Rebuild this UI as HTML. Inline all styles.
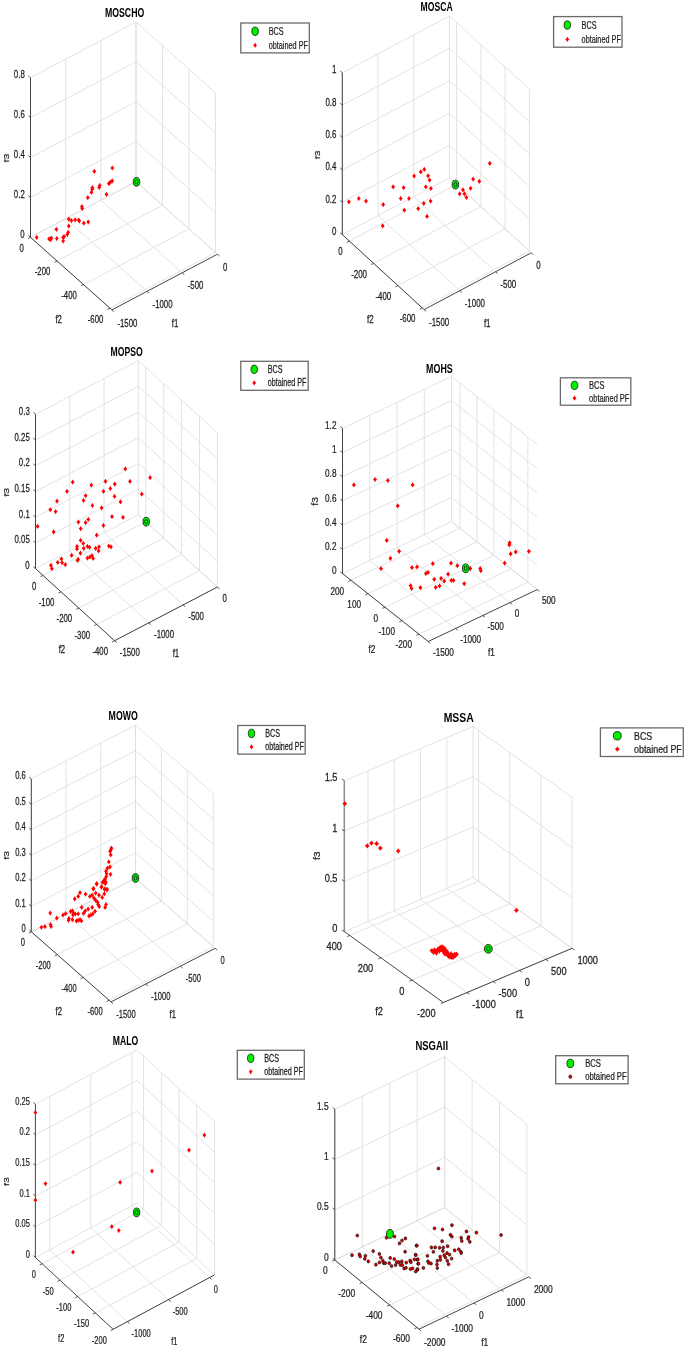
<!DOCTYPE html>
<html><head><meta charset="utf-8"><title>Pareto fronts</title>
<style>html,body{margin:0;padding:0;background:#fff;}svg{display:block;will-change:transform;}text{font-family:"Liberation Sans",sans-serif;}</style>
</head><body>
<svg width="685" height="1348" viewBox="0 0 685 1348" font-family='"Liberation Sans", sans-serif'>
<line x1="30.5" y1="237.3" x2="30.5" y2="77.7" stroke="#dcdcdc" stroke-width="0.8"/>
<line x1="109.96" y1="308.17" x2="30.5" y2="237.3" stroke="#dcdcdc" stroke-width="0.8"/>
<line x1="65.67" y1="218.73" x2="65.67" y2="59.13" stroke="#dcdcdc" stroke-width="0.8"/>
<line x1="145.13" y1="289.6" x2="65.67" y2="218.73" stroke="#dcdcdc" stroke-width="0.8"/>
<line x1="100.83" y1="200.17" x2="100.83" y2="40.57" stroke="#dcdcdc" stroke-width="0.8"/>
<line x1="180.29" y1="271.04" x2="100.83" y2="200.17" stroke="#dcdcdc" stroke-width="0.8"/>
<line x1="136" y1="181.6" x2="136" y2="22" stroke="#dcdcdc" stroke-width="0.8"/>
<line x1="215.46" y1="252.47" x2="136" y2="181.6" stroke="#dcdcdc" stroke-width="0.8"/>
<line x1="30.5" y1="237.3" x2="136" y2="181.6" stroke="#dcdcdc" stroke-width="0.8"/>
<line x1="136" y1="181.6" x2="215.46" y2="252.47" stroke="#dcdcdc" stroke-width="0.8"/>
<line x1="30.5" y1="197.4" x2="136" y2="141.7" stroke="#dcdcdc" stroke-width="0.8"/>
<line x1="136" y1="141.7" x2="215.46" y2="212.57" stroke="#dcdcdc" stroke-width="0.8"/>
<line x1="30.5" y1="157.5" x2="136" y2="101.8" stroke="#dcdcdc" stroke-width="0.8"/>
<line x1="136" y1="101.8" x2="215.46" y2="172.67" stroke="#dcdcdc" stroke-width="0.8"/>
<line x1="30.5" y1="117.6" x2="136" y2="61.9" stroke="#dcdcdc" stroke-width="0.8"/>
<line x1="136" y1="61.9" x2="215.46" y2="132.77" stroke="#dcdcdc" stroke-width="0.8"/>
<line x1="30.5" y1="77.7" x2="136" y2="22" stroke="#dcdcdc" stroke-width="0.8"/>
<line x1="136" y1="22" x2="215.46" y2="92.87" stroke="#dcdcdc" stroke-width="0.8"/>
<line x1="215.46" y1="252.47" x2="215.46" y2="92.87" stroke="#dcdcdc" stroke-width="0.8"/>
<line x1="109.96" y1="308.17" x2="215.46" y2="252.47" stroke="#dcdcdc" stroke-width="0.8"/>
<line x1="188.97" y1="228.85" x2="188.97" y2="69.25" stroke="#dcdcdc" stroke-width="0.8"/>
<line x1="83.47" y1="284.55" x2="188.97" y2="228.85" stroke="#dcdcdc" stroke-width="0.8"/>
<line x1="162.49" y1="205.22" x2="162.49" y2="45.62" stroke="#dcdcdc" stroke-width="0.8"/>
<line x1="56.99" y1="260.92" x2="162.49" y2="205.22" stroke="#dcdcdc" stroke-width="0.8"/>
<line x1="136" y1="181.6" x2="136" y2="22" stroke="#dcdcdc" stroke-width="0.8"/>
<line x1="30.5" y1="237.3" x2="136" y2="181.6" stroke="#dcdcdc" stroke-width="0.8"/>
<line x1="30.5" y1="237.3" x2="30.5" y2="77.7" stroke="#303030" stroke-width="0.9"/>
<line x1="30.5" y1="237.3" x2="111.9" y2="309.9" stroke="#303030" stroke-width="0.9"/>
<line x1="111.9" y1="309.9" x2="217.4" y2="254.2" stroke="#303030" stroke-width="0.9"/>
<line x1="111.9" y1="309.9" x2="113.99" y2="311.76" stroke="#303030" stroke-width="0.8"/>
<line x1="147.07" y1="291.33" x2="149.16" y2="293.2" stroke="#303030" stroke-width="0.8"/>
<line x1="182.23" y1="272.77" x2="184.32" y2="274.63" stroke="#303030" stroke-width="0.8"/>
<line x1="217.4" y1="254.2" x2="219.49" y2="256.06" stroke="#303030" stroke-width="0.8"/>
<line x1="109.96" y1="308.17" x2="107.48" y2="309.48" stroke="#303030" stroke-width="0.8"/>
<line x1="83.47" y1="284.55" x2="81" y2="285.85" stroke="#303030" stroke-width="0.8"/>
<line x1="56.99" y1="260.92" x2="54.51" y2="262.23" stroke="#303030" stroke-width="0.8"/>
<line x1="30.5" y1="237.3" x2="28.02" y2="238.61" stroke="#303030" stroke-width="0.8"/>
<line x1="30.5" y1="237.3" x2="28.41" y2="235.44" stroke="#303030" stroke-width="0.8"/>
<line x1="30.5" y1="197.4" x2="28.41" y2="195.54" stroke="#303030" stroke-width="0.8"/>
<line x1="30.5" y1="157.5" x2="28.41" y2="155.64" stroke="#303030" stroke-width="0.8"/>
<line x1="30.5" y1="117.6" x2="28.41" y2="115.74" stroke="#303030" stroke-width="0.8"/>
<line x1="30.5" y1="77.7" x2="28.41" y2="75.84" stroke="#303030" stroke-width="0.8"/>
<text transform="translate(24.72 237.9) scale(0.75 1)" font-size="10.4" text-anchor="end" font-weight="normal" fill="#1e1e1e" stroke="#1e1e1e" stroke-width="0.25">0</text>
<text transform="translate(24.72 198) scale(0.75 1)" font-size="10.4" text-anchor="end" font-weight="normal" fill="#1e1e1e" stroke="#1e1e1e" stroke-width="0.25">0.2</text>
<text transform="translate(24.72 158.1) scale(0.75 1)" font-size="10.4" text-anchor="end" font-weight="normal" fill="#1e1e1e" stroke="#1e1e1e" stroke-width="0.25">0.4</text>
<text transform="translate(24.72 118.2) scale(0.75 1)" font-size="10.4" text-anchor="end" font-weight="normal" fill="#1e1e1e" stroke="#1e1e1e" stroke-width="0.25">0.6</text>
<text transform="translate(24.72 78.3) scale(0.75 1)" font-size="10.4" text-anchor="end" font-weight="normal" fill="#1e1e1e" stroke="#1e1e1e" stroke-width="0.25">0.8</text>
<text transform="translate(103.36 322.57) scale(0.75 1)" font-size="10.4" text-anchor="end" font-weight="normal" fill="#1e1e1e" stroke="#1e1e1e" stroke-width="0.25">-600</text>
<text transform="translate(76.87 298.95) scale(0.75 1)" font-size="10.4" text-anchor="end" font-weight="normal" fill="#1e1e1e" stroke="#1e1e1e" stroke-width="0.25">-400</text>
<text transform="translate(50.38 275.32) scale(0.75 1)" font-size="10.4" text-anchor="end" font-weight="normal" fill="#1e1e1e" stroke="#1e1e1e" stroke-width="0.25">-200</text>
<text transform="translate(23.9 251.7) scale(0.75 1)" font-size="10.4" text-anchor="end" font-weight="normal" fill="#1e1e1e" stroke="#1e1e1e" stroke-width="0.25">0</text>
<text transform="translate(117.4 326.5) scale(0.75 1)" font-size="10.4" text-anchor="start" font-weight="normal" fill="#1e1e1e" stroke="#1e1e1e" stroke-width="0.25">-1500</text>
<text transform="translate(152.57 307.93) scale(0.75 1)" font-size="10.4" text-anchor="start" font-weight="normal" fill="#1e1e1e" stroke="#1e1e1e" stroke-width="0.25">-1000</text>
<text transform="translate(187.73 289.37) scale(0.75 1)" font-size="10.4" text-anchor="start" font-weight="normal" fill="#1e1e1e" stroke="#1e1e1e" stroke-width="0.25">-500</text>
<text transform="translate(222.9 270.8) scale(0.75 1)" font-size="10.4" text-anchor="start" font-weight="normal" fill="#1e1e1e" stroke="#1e1e1e" stroke-width="0.25">0</text>
<text transform="translate(175 326.8) scale(0.75 1)" font-size="10.4" text-anchor="middle" font-weight="normal" fill="#1e1e1e" stroke="#1e1e1e" stroke-width="0.25">f1</text>
<text transform="translate(58.7 323.1) scale(0.75 1)" font-size="10.4" text-anchor="middle" font-weight="normal" fill="#1e1e1e" stroke="#1e1e1e" stroke-width="0.25">f2</text>
<text transform="translate(8.5 158.1) scale(0.75 1) rotate(-90)" font-size="10.4" text-anchor="middle" font-weight="normal" fill="#1e1e1e" stroke="#1e1e1e" stroke-width="0.25">f3</text>
<text transform="translate(124.6 17.2) scale(0.73 1)" font-size="12" text-anchor="middle" font-weight="bold" fill="#000">MOSCHO</text>
<path d="M36.7 234.75L37.65 236.3L38.7 237.4L37.65 238.5L36.7 240.05L35.75 238.5L34.7 237.4L35.75 236.3Z" fill="#ff0000"/>
<path d="M49.1 236.15L50.05 237.7L51.1 238.8L50.05 239.9L49.1 241.45L48.15 239.9L47.1 238.8L48.15 237.7Z" fill="#ff0000"/>
<path d="M50.5 236.95L51.45 238.5L52.5 239.6L51.45 240.7L50.5 242.25L49.55 240.7L48.5 239.6L49.55 238.5Z" fill="#ff0000"/>
<path d="M51.3 235.45L52.25 237L53.3 238.1L52.25 239.2L51.3 240.75L50.35 239.2L49.3 238.1L50.35 237Z" fill="#ff0000"/>
<path d="M56.4 226.65L57.35 228.2L58.4 229.3L57.35 230.4L56.4 231.95L55.45 230.4L54.4 229.3L55.45 228.2Z" fill="#ff0000"/>
<path d="M56.8 235.85L57.75 237.4L58.8 238.5L57.75 239.6L56.8 241.15L55.85 239.6L54.8 238.5L55.85 237.4Z" fill="#ff0000"/>
<path d="M63.2 234.75L64.15 236.3L65.2 237.4L64.15 238.5L63.2 240.05L62.25 238.5L61.2 237.4L62.25 236.3Z" fill="#ff0000"/>
<path d="M63.2 238.35L64.15 239.9L65.2 241L64.15 242.1L63.2 243.65L62.25 242.1L61.2 241L62.25 239.9Z" fill="#ff0000"/>
<path d="M64.1 233.95L65.05 235.5L66.1 236.6L65.05 237.7L64.1 239.25L63.15 237.7L62.1 236.6L63.15 235.5Z" fill="#ff0000"/>
<path d="M67.3 231.85L68.25 233.4L69.3 234.5L68.25 235.6L67.3 237.15L66.35 235.6L65.3 234.5L66.35 233.4Z" fill="#ff0000"/>
<path d="M68.1 229.65L69.05 231.2L70.1 232.3L69.05 233.4L68.1 234.95L67.15 233.4L66.1 232.3L67.15 231.2Z" fill="#ff0000"/>
<path d="M68.8 223.35L69.75 224.9L70.8 226L69.75 227.1L68.8 228.65L67.85 227.1L66.8 226L67.85 224.9Z" fill="#ff0000"/>
<path d="M68.8 216.45L69.75 218L70.8 219.1L69.75 220.2L68.8 221.75L67.85 220.2L66.8 219.1L67.85 218Z" fill="#ff0000"/>
<path d="M71.4 217.95L72.35 219.5L73.4 220.6L72.35 221.7L71.4 223.25L70.45 221.7L69.4 220.6L70.45 219.5Z" fill="#ff0000"/>
<path d="M75.1 217.25L76.05 218.8L77.1 219.9L76.05 221L75.1 222.55L74.15 221L73.1 219.9L74.15 218.8Z" fill="#ff0000"/>
<path d="M78.7 217.45L79.65 219L80.7 220.1L79.65 221.2L78.7 222.75L77.75 221.2L76.7 220.1L77.75 219Z" fill="#ff0000"/>
<path d="M79.3 218.35L80.25 219.9L81.3 221L80.25 222.1L79.3 223.65L78.35 222.1L77.3 221L78.35 219.9Z" fill="#ff0000"/>
<path d="M83.8 220.55L84.75 222.1L85.8 223.2L84.75 224.3L83.8 225.85L82.85 224.3L81.8 223.2L82.85 222.1Z" fill="#ff0000"/>
<path d="M88.2 219.35L89.15 220.9L90.2 222L89.15 223.1L88.2 224.65L87.25 223.1L86.2 222L87.25 220.9Z" fill="#ff0000"/>
<path d="M81.9 204.05L82.85 205.6L83.9 206.7L82.85 207.8L81.9 209.35L80.95 207.8L79.9 206.7L80.95 205.6Z" fill="#ff0000"/>
<path d="M82.2 205.85L83.15 207.4L84.2 208.5L83.15 209.6L82.2 211.15L81.25 209.6L80.2 208.5L81.25 207.4Z" fill="#ff0000"/>
<path d="M87.8 195.05L88.75 196.6L89.8 197.7L88.75 198.8L87.8 200.35L86.85 198.8L85.8 197.7L86.85 196.6Z" fill="#ff0000"/>
<path d="M91.4 189.75L92.35 191.3L93.4 192.4L92.35 193.5L91.4 195.05L90.45 193.5L89.4 192.4L90.45 191.3Z" fill="#ff0000"/>
<path d="M92.2 186.55L93.15 188.1L94.2 189.2L93.15 190.3L92.2 191.85L91.25 190.3L90.2 189.2L91.25 188.1Z" fill="#ff0000"/>
<path d="M92.4 185.05L93.35 186.6L94.4 187.7L93.35 188.8L92.4 190.35L91.45 188.8L90.4 187.7L91.45 186.6Z" fill="#ff0000"/>
<path d="M94.3 168.75L95.25 170.3L96.3 171.4L95.25 172.5L94.3 174.05L93.35 172.5L92.3 171.4L93.35 170.3Z" fill="#ff0000"/>
<path d="M99.2 184.75L100.15 186.3L101.2 187.4L100.15 188.5L99.2 190.05L98.25 188.5L97.2 187.4L98.25 186.3Z" fill="#ff0000"/>
<path d="M99.7 182.85L100.65 184.4L101.7 185.5L100.65 186.6L99.7 188.15L98.75 186.6L97.7 185.5L98.75 184.4Z" fill="#ff0000"/>
<path d="M106.5 191.65L107.45 193.2L108.5 194.3L107.45 195.4L106.5 196.95L105.55 195.4L104.5 194.3L105.55 193.2Z" fill="#ff0000"/>
<path d="M108.9 180.95L109.85 182.5L110.9 183.6L109.85 184.7L108.9 186.25L107.95 184.7L106.9 183.6L107.95 182.5Z" fill="#ff0000"/>
<path d="M110.4 179.55L111.35 181.1L112.4 182.2L111.35 183.3L110.4 184.85L109.45 183.3L108.4 182.2L109.45 181.1Z" fill="#ff0000"/>
<path d="M112.2 178.25L113.15 179.8L114.2 180.9L113.15 182L112.2 183.55L111.25 182L110.2 180.9L111.25 179.8Z" fill="#ff0000"/>
<path d="M112.3 165.35L113.25 166.9L114.3 168L113.25 169.1L112.3 170.65L111.35 169.1L110.3 168L111.35 166.9Z" fill="#ff0000"/>
<ellipse cx="136.5" cy="181.8" rx="3.27" ry="4.4" fill="#00f000" stroke="#111" stroke-width="0.8"/>
<ellipse cx="136.5" cy="181.8" rx="1.44" ry="2.2" fill="none" stroke="#031" stroke-width="0.9"/>
<rect x="240.8" y="23" width="68.5" height="29.9" fill="#fff" stroke="#6a6a6a" stroke-width="1.3"/>
<ellipse cx="255.1" cy="31.24" rx="3.27" ry="4.2" fill="#00f000" stroke="#000" stroke-width="0.7"/>
<path d="M255.1 42.62L256.05 44.17L257.1 45.27L256.05 46.37L255.1 47.92L254.15 46.37L253.1 45.27L254.15 44.17Z" fill="#ff0000"/>
<text transform="translate(268.7 35.24) scale(0.7 1)" font-size="10.4" text-anchor="start" font-weight="normal" fill="#1e1e1e" stroke="#1e1e1e" stroke-width="0.25">BCS</text>
<text transform="translate(268.7 48.57) scale(0.7 1)" font-size="10.4" text-anchor="start" font-weight="normal" fill="#1e1e1e" stroke="#1e1e1e" stroke-width="0.25">obtained PF</text>
<line x1="342.3" y1="234.6" x2="342.3" y2="72.8" stroke="#dcdcdc" stroke-width="0.8"/>
<line x1="422.18" y1="307.84" x2="342.3" y2="234.6" stroke="#dcdcdc" stroke-width="0.8"/>
<line x1="378.03" y1="215.67" x2="378.03" y2="53.87" stroke="#dcdcdc" stroke-width="0.8"/>
<line x1="457.92" y1="288.91" x2="378.03" y2="215.67" stroke="#dcdcdc" stroke-width="0.8"/>
<line x1="413.77" y1="196.73" x2="413.77" y2="34.93" stroke="#dcdcdc" stroke-width="0.8"/>
<line x1="493.65" y1="269.98" x2="413.77" y2="196.73" stroke="#dcdcdc" stroke-width="0.8"/>
<line x1="449.5" y1="177.8" x2="449.5" y2="16" stroke="#dcdcdc" stroke-width="0.8"/>
<line x1="529.38" y1="251.04" x2="449.5" y2="177.8" stroke="#dcdcdc" stroke-width="0.8"/>
<line x1="342.3" y1="234.6" x2="449.5" y2="177.8" stroke="#dcdcdc" stroke-width="0.8"/>
<line x1="449.5" y1="177.8" x2="529.38" y2="251.04" stroke="#dcdcdc" stroke-width="0.8"/>
<line x1="342.3" y1="202.24" x2="449.5" y2="145.44" stroke="#dcdcdc" stroke-width="0.8"/>
<line x1="449.5" y1="145.44" x2="529.38" y2="218.68" stroke="#dcdcdc" stroke-width="0.8"/>
<line x1="342.3" y1="169.88" x2="449.5" y2="113.08" stroke="#dcdcdc" stroke-width="0.8"/>
<line x1="449.5" y1="113.08" x2="529.38" y2="186.32" stroke="#dcdcdc" stroke-width="0.8"/>
<line x1="342.3" y1="137.52" x2="449.5" y2="80.72" stroke="#dcdcdc" stroke-width="0.8"/>
<line x1="449.5" y1="80.72" x2="529.38" y2="153.96" stroke="#dcdcdc" stroke-width="0.8"/>
<line x1="342.3" y1="105.16" x2="449.5" y2="48.36" stroke="#dcdcdc" stroke-width="0.8"/>
<line x1="449.5" y1="48.36" x2="529.38" y2="121.6" stroke="#dcdcdc" stroke-width="0.8"/>
<line x1="342.3" y1="72.8" x2="449.5" y2="16" stroke="#dcdcdc" stroke-width="0.8"/>
<line x1="449.5" y1="16" x2="529.38" y2="89.24" stroke="#dcdcdc" stroke-width="0.8"/>
<line x1="529.38" y1="251.04" x2="529.38" y2="89.24" stroke="#dcdcdc" stroke-width="0.8"/>
<line x1="422.18" y1="307.84" x2="529.38" y2="251.04" stroke="#dcdcdc" stroke-width="0.8"/>
<line x1="505.1" y1="228.78" x2="505.1" y2="66.98" stroke="#dcdcdc" stroke-width="0.8"/>
<line x1="397.9" y1="285.58" x2="505.1" y2="228.78" stroke="#dcdcdc" stroke-width="0.8"/>
<line x1="480.82" y1="206.52" x2="480.82" y2="44.72" stroke="#dcdcdc" stroke-width="0.8"/>
<line x1="373.62" y1="263.32" x2="480.82" y2="206.52" stroke="#dcdcdc" stroke-width="0.8"/>
<line x1="456.54" y1="184.26" x2="456.54" y2="22.46" stroke="#dcdcdc" stroke-width="0.8"/>
<line x1="349.34" y1="241.06" x2="456.54" y2="184.26" stroke="#dcdcdc" stroke-width="0.8"/>
<line x1="342.3" y1="234.6" x2="342.3" y2="72.8" stroke="#303030" stroke-width="0.9"/>
<line x1="342.3" y1="234.6" x2="424.1" y2="309.6" stroke="#303030" stroke-width="0.9"/>
<line x1="424.1" y1="309.6" x2="531.3" y2="252.8" stroke="#303030" stroke-width="0.9"/>
<line x1="424.1" y1="309.6" x2="426.16" y2="311.49" stroke="#303030" stroke-width="0.8"/>
<line x1="459.83" y1="290.67" x2="461.9" y2="292.56" stroke="#303030" stroke-width="0.8"/>
<line x1="495.57" y1="271.73" x2="497.63" y2="273.63" stroke="#303030" stroke-width="0.8"/>
<line x1="531.3" y1="252.8" x2="533.36" y2="254.69" stroke="#303030" stroke-width="0.8"/>
<line x1="422.18" y1="307.84" x2="419.71" y2="309.15" stroke="#303030" stroke-width="0.8"/>
<line x1="397.9" y1="285.58" x2="395.43" y2="286.89" stroke="#303030" stroke-width="0.8"/>
<line x1="373.62" y1="263.32" x2="371.15" y2="264.63" stroke="#303030" stroke-width="0.8"/>
<line x1="349.34" y1="241.06" x2="346.87" y2="242.37" stroke="#303030" stroke-width="0.8"/>
<line x1="342.3" y1="234.6" x2="340.24" y2="232.71" stroke="#303030" stroke-width="0.8"/>
<line x1="342.3" y1="202.24" x2="340.24" y2="200.35" stroke="#303030" stroke-width="0.8"/>
<line x1="342.3" y1="169.88" x2="340.24" y2="167.99" stroke="#303030" stroke-width="0.8"/>
<line x1="342.3" y1="137.52" x2="340.24" y2="135.63" stroke="#303030" stroke-width="0.8"/>
<line x1="342.3" y1="105.16" x2="340.24" y2="103.27" stroke="#303030" stroke-width="0.8"/>
<line x1="342.3" y1="72.8" x2="340.24" y2="70.91" stroke="#303030" stroke-width="0.8"/>
<text transform="translate(336.44 235.2) scale(0.76 1)" font-size="10.4" text-anchor="end" font-weight="normal" fill="#1e1e1e" stroke="#1e1e1e" stroke-width="0.25">0</text>
<text transform="translate(336.44 202.84) scale(0.76 1)" font-size="10.4" text-anchor="end" font-weight="normal" fill="#1e1e1e" stroke="#1e1e1e" stroke-width="0.25">0.2</text>
<text transform="translate(336.44 170.48) scale(0.76 1)" font-size="10.4" text-anchor="end" font-weight="normal" fill="#1e1e1e" stroke="#1e1e1e" stroke-width="0.25">0.4</text>
<text transform="translate(336.44 138.12) scale(0.76 1)" font-size="10.4" text-anchor="end" font-weight="normal" fill="#1e1e1e" stroke="#1e1e1e" stroke-width="0.25">0.6</text>
<text transform="translate(336.44 105.76) scale(0.76 1)" font-size="10.4" text-anchor="end" font-weight="normal" fill="#1e1e1e" stroke="#1e1e1e" stroke-width="0.25">0.8</text>
<text transform="translate(336.44 73.4) scale(0.76 1)" font-size="10.4" text-anchor="end" font-weight="normal" fill="#1e1e1e" stroke="#1e1e1e" stroke-width="0.25">1</text>
<text transform="translate(415.49 322.24) scale(0.76 1)" font-size="10.4" text-anchor="end" font-weight="normal" fill="#1e1e1e" stroke="#1e1e1e" stroke-width="0.25">-600</text>
<text transform="translate(391.2 299.98) scale(0.76 1)" font-size="10.4" text-anchor="end" font-weight="normal" fill="#1e1e1e" stroke="#1e1e1e" stroke-width="0.25">-400</text>
<text transform="translate(366.92 277.72) scale(0.76 1)" font-size="10.4" text-anchor="end" font-weight="normal" fill="#1e1e1e" stroke="#1e1e1e" stroke-width="0.25">-200</text>
<text transform="translate(342.64 255.46) scale(0.76 1)" font-size="10.4" text-anchor="end" font-weight="normal" fill="#1e1e1e" stroke="#1e1e1e" stroke-width="0.25">0</text>
<text transform="translate(429 325.8) scale(0.76 1)" font-size="10.4" text-anchor="start" font-weight="normal" fill="#1e1e1e" stroke="#1e1e1e" stroke-width="0.25">-1500</text>
<text transform="translate(464.73 306.87) scale(0.76 1)" font-size="10.4" text-anchor="start" font-weight="normal" fill="#1e1e1e" stroke="#1e1e1e" stroke-width="0.25">-1000</text>
<text transform="translate(500.47 287.93) scale(0.76 1)" font-size="10.4" text-anchor="start" font-weight="normal" fill="#1e1e1e" stroke="#1e1e1e" stroke-width="0.25">-500</text>
<text transform="translate(536.2 269) scale(0.76 1)" font-size="10.4" text-anchor="start" font-weight="normal" fill="#1e1e1e" stroke="#1e1e1e" stroke-width="0.25">0</text>
<text transform="translate(487.2 326.8) scale(0.76 1)" font-size="10.4" text-anchor="middle" font-weight="normal" fill="#1e1e1e" stroke="#1e1e1e" stroke-width="0.25">f1</text>
<text transform="translate(370.3 322.8) scale(0.76 1)" font-size="10.4" text-anchor="middle" font-weight="normal" fill="#1e1e1e" stroke="#1e1e1e" stroke-width="0.25">f2</text>
<text transform="translate(319.5 154.8) scale(0.76 1) rotate(-90)" font-size="10.4" text-anchor="middle" font-weight="normal" fill="#1e1e1e" stroke="#1e1e1e" stroke-width="0.25">f3</text>
<text transform="translate(436.6 11) scale(0.72 1)" font-size="12" text-anchor="middle" font-weight="bold" fill="#000">MOSCA</text>
<path d="M348.9 199.15L349.85 200.7L350.9 201.8L349.85 202.9L348.9 204.45L347.95 202.9L346.9 201.8L347.95 200.7Z" fill="#ff0000"/>
<path d="M358.8 195.85L359.75 197.4L360.8 198.5L359.75 199.6L358.8 201.15L357.85 199.6L356.8 198.5L357.85 197.4Z" fill="#ff0000"/>
<path d="M366 198.45L366.95 200L368 201.1L366.95 202.2L366 203.75L365.05 202.2L364 201.1L365.05 200Z" fill="#ff0000"/>
<path d="M383.2 202.05L384.15 203.6L385.2 204.7L384.15 205.8L383.2 207.35L382.25 205.8L381.2 204.7L382.25 203.6Z" fill="#ff0000"/>
<path d="M382.7 223.25L383.65 224.8L384.7 225.9L383.65 227L382.7 228.55L381.75 227L380.7 225.9L381.75 224.8Z" fill="#ff0000"/>
<path d="M393.1 184.15L394.05 185.7L395.1 186.8L394.05 187.9L393.1 189.45L392.15 187.9L391.1 186.8L392.15 185.7Z" fill="#ff0000"/>
<path d="M403.6 185.05L404.55 186.6L405.6 187.7L404.55 188.8L403.6 190.35L402.65 188.8L401.6 187.7L402.65 186.6Z" fill="#ff0000"/>
<path d="M400.7 195.85L401.65 197.4L402.7 198.5L401.65 199.6L400.7 201.15L399.75 199.6L398.7 198.5L399.75 197.4Z" fill="#ff0000"/>
<path d="M409 195.85L409.95 197.4L411 198.5L409.95 199.6L409 201.15L408.05 199.6L407 198.5L408.05 197.4Z" fill="#ff0000"/>
<path d="M404.3 207.45L405.25 209L406.3 210.1L405.25 211.2L404.3 212.75L403.35 211.2L402.3 210.1L403.35 209Z" fill="#ff0000"/>
<path d="M414.1 173.35L415.05 174.9L416.1 176L415.05 177.1L414.1 178.65L413.15 177.1L412.1 176L413.15 174.9Z" fill="#ff0000"/>
<path d="M420.8 169.25L421.75 170.8L422.8 171.9L421.75 173L420.8 174.55L419.85 173L418.8 171.9L419.85 170.8Z" fill="#ff0000"/>
<path d="M424.3 166.75L425.25 168.3L426.3 169.4L425.25 170.5L424.3 172.05L423.35 170.5L422.3 169.4L423.35 168.3Z" fill="#ff0000"/>
<path d="M428.1 173.15L429.05 174.7L430.1 175.8L429.05 176.9L428.1 178.45L427.15 176.9L426.1 175.8L427.15 174.7Z" fill="#ff0000"/>
<path d="M429.6 177.55L430.55 179.1L431.6 180.2L430.55 181.3L429.6 182.85L428.65 181.3L427.6 180.2L428.65 179.1Z" fill="#ff0000"/>
<path d="M425.8 184.15L426.75 185.7L427.8 186.8L426.75 187.9L425.8 189.45L424.85 187.9L423.8 186.8L424.85 185.7Z" fill="#ff0000"/>
<path d="M430.9 185.75L431.85 187.3L432.9 188.4L431.85 189.5L430.9 191.05L429.95 189.5L428.9 188.4L429.95 187.3Z" fill="#ff0000"/>
<path d="M423.8 200.65L424.75 202.2L425.8 203.3L424.75 204.4L423.8 205.95L422.85 204.4L421.8 203.3L422.85 202.2Z" fill="#ff0000"/>
<path d="M430.6 198.45L431.55 200L432.6 201.1L431.55 202.2L430.6 203.75L429.65 202.2L428.6 201.1L429.65 200Z" fill="#ff0000"/>
<path d="M418.2 206.05L419.15 207.6L420.2 208.7L419.15 209.8L418.2 211.35L417.25 209.8L416.2 208.7L417.25 207.6Z" fill="#ff0000"/>
<path d="M427 213.75L427.95 215.3L429 216.4L427.95 217.5L427 219.05L426.05 217.5L425 216.4L426.05 215.3Z" fill="#ff0000"/>
<path d="M459.7 191.15L460.65 192.7L461.7 193.8L460.65 194.9L459.7 196.45L458.75 194.9L457.7 193.8L458.75 192.7Z" fill="#ff0000"/>
<path d="M463 187.25L463.95 188.8L465 189.9L463.95 191L463 192.55L462.05 191L461 189.9L462.05 188.8Z" fill="#ff0000"/>
<path d="M464.4 191.15L465.35 192.7L466.4 193.8L465.35 194.9L464.4 196.45L463.45 194.9L462.4 193.8L463.45 192.7Z" fill="#ff0000"/>
<path d="M466.4 194.65L467.35 196.2L468.4 197.3L467.35 198.4L466.4 199.95L465.45 198.4L464.4 197.3L465.45 196.2Z" fill="#ff0000"/>
<path d="M470.6 185.65L471.55 187.2L472.6 188.3L471.55 189.4L470.6 190.95L469.65 189.4L468.6 188.3L469.65 187.2Z" fill="#ff0000"/>
<path d="M473.1 176.55L474.05 178.1L475.1 179.2L474.05 180.3L473.1 181.85L472.15 180.3L471.1 179.2L472.15 178.1Z" fill="#ff0000"/>
<path d="M479.3 178.65L480.25 180.2L481.3 181.3L480.25 182.4L479.3 183.95L478.35 182.4L477.3 181.3L478.35 180.2Z" fill="#ff0000"/>
<path d="M489.8 160.75L490.75 162.3L491.8 163.4L490.75 164.5L489.8 166.05L488.85 164.5L487.8 163.4L488.85 162.3Z" fill="#ff0000"/>
<ellipse cx="455.4" cy="184.6" rx="3.27" ry="4.4" fill="#00f000" stroke="#111" stroke-width="0.8"/>
<ellipse cx="455.4" cy="184.6" rx="1.44" ry="2.2" fill="none" stroke="#031" stroke-width="0.9"/>
<rect x="553.6" y="16.6" width="68.4" height="30.6" fill="#fff" stroke="#6a6a6a" stroke-width="1.3"/>
<ellipse cx="567.3" cy="25.04" rx="3.27" ry="4.2" fill="#00f000" stroke="#000" stroke-width="0.7"/>
<path d="M567.3 36.74L568.25 38.29L569.3 39.39L568.25 40.49L567.3 42.04L566.35 40.49L565.3 39.39L566.35 38.29Z" fill="#ff0000"/>
<text transform="translate(581.6 29.04) scale(0.7 1)" font-size="10.4" text-anchor="start" font-weight="normal" fill="#1e1e1e" stroke="#1e1e1e" stroke-width="0.25">BCS</text>
<text transform="translate(581.6 42.69) scale(0.7 1)" font-size="10.4" text-anchor="start" font-weight="normal" fill="#1e1e1e" stroke="#1e1e1e" stroke-width="0.25">obtained PF</text>
<line x1="35.5" y1="568.6" x2="35.5" y2="414.3" stroke="#dcdcdc" stroke-width="0.8"/>
<line x1="114.6" y1="640.7" x2="35.5" y2="568.6" stroke="#dcdcdc" stroke-width="0.8"/>
<line x1="69.77" y1="550.7" x2="69.77" y2="396.4" stroke="#dcdcdc" stroke-width="0.8"/>
<line x1="148.87" y1="622.8" x2="69.77" y2="550.7" stroke="#dcdcdc" stroke-width="0.8"/>
<line x1="104.03" y1="532.8" x2="104.03" y2="378.5" stroke="#dcdcdc" stroke-width="0.8"/>
<line x1="183.13" y1="604.9" x2="104.03" y2="532.8" stroke="#dcdcdc" stroke-width="0.8"/>
<line x1="138.3" y1="514.9" x2="138.3" y2="360.6" stroke="#dcdcdc" stroke-width="0.8"/>
<line x1="217.4" y1="587" x2="138.3" y2="514.9" stroke="#dcdcdc" stroke-width="0.8"/>
<line x1="35.5" y1="568.6" x2="138.3" y2="514.9" stroke="#dcdcdc" stroke-width="0.8"/>
<line x1="138.3" y1="514.9" x2="217.4" y2="587" stroke="#dcdcdc" stroke-width="0.8"/>
<line x1="35.5" y1="542.88" x2="138.3" y2="489.18" stroke="#dcdcdc" stroke-width="0.8"/>
<line x1="138.3" y1="489.18" x2="217.4" y2="561.28" stroke="#dcdcdc" stroke-width="0.8"/>
<line x1="35.5" y1="517.17" x2="138.3" y2="463.47" stroke="#dcdcdc" stroke-width="0.8"/>
<line x1="138.3" y1="463.47" x2="217.4" y2="535.57" stroke="#dcdcdc" stroke-width="0.8"/>
<line x1="35.5" y1="491.45" x2="138.3" y2="437.75" stroke="#dcdcdc" stroke-width="0.8"/>
<line x1="138.3" y1="437.75" x2="217.4" y2="509.85" stroke="#dcdcdc" stroke-width="0.8"/>
<line x1="35.5" y1="465.73" x2="138.3" y2="412.03" stroke="#dcdcdc" stroke-width="0.8"/>
<line x1="138.3" y1="412.03" x2="217.4" y2="484.13" stroke="#dcdcdc" stroke-width="0.8"/>
<line x1="35.5" y1="440.02" x2="138.3" y2="386.32" stroke="#dcdcdc" stroke-width="0.8"/>
<line x1="138.3" y1="386.32" x2="217.4" y2="458.42" stroke="#dcdcdc" stroke-width="0.8"/>
<line x1="35.5" y1="414.3" x2="138.3" y2="360.6" stroke="#dcdcdc" stroke-width="0.8"/>
<line x1="138.3" y1="360.6" x2="217.4" y2="432.7" stroke="#dcdcdc" stroke-width="0.8"/>
<line x1="217.4" y1="587" x2="217.4" y2="432.7" stroke="#dcdcdc" stroke-width="0.8"/>
<line x1="114.6" y1="640.7" x2="217.4" y2="587" stroke="#dcdcdc" stroke-width="0.8"/>
<line x1="199.5" y1="570.69" x2="199.5" y2="416.39" stroke="#dcdcdc" stroke-width="0.8"/>
<line x1="96.7" y1="624.39" x2="199.5" y2="570.69" stroke="#dcdcdc" stroke-width="0.8"/>
<line x1="181.61" y1="554.38" x2="181.61" y2="400.08" stroke="#dcdcdc" stroke-width="0.8"/>
<line x1="78.81" y1="608.08" x2="181.61" y2="554.38" stroke="#dcdcdc" stroke-width="0.8"/>
<line x1="163.71" y1="538.06" x2="163.71" y2="383.76" stroke="#dcdcdc" stroke-width="0.8"/>
<line x1="60.91" y1="591.76" x2="163.71" y2="538.06" stroke="#dcdcdc" stroke-width="0.8"/>
<line x1="145.82" y1="521.75" x2="145.82" y2="367.45" stroke="#dcdcdc" stroke-width="0.8"/>
<line x1="43.02" y1="575.45" x2="145.82" y2="521.75" stroke="#dcdcdc" stroke-width="0.8"/>
<line x1="35.5" y1="568.6" x2="35.5" y2="414.3" stroke="#303030" stroke-width="0.9"/>
<line x1="35.5" y1="568.6" x2="114.6" y2="640.7" stroke="#303030" stroke-width="0.9"/>
<line x1="114.6" y1="640.7" x2="217.4" y2="587" stroke="#303030" stroke-width="0.9"/>
<line x1="114.6" y1="640.7" x2="116.67" y2="642.59" stroke="#303030" stroke-width="0.8"/>
<line x1="148.87" y1="622.8" x2="150.94" y2="624.69" stroke="#303030" stroke-width="0.8"/>
<line x1="183.13" y1="604.9" x2="185.2" y2="606.79" stroke="#303030" stroke-width="0.8"/>
<line x1="217.4" y1="587" x2="219.47" y2="588.89" stroke="#303030" stroke-width="0.8"/>
<line x1="114.6" y1="640.7" x2="112.12" y2="642" stroke="#303030" stroke-width="0.8"/>
<line x1="96.7" y1="624.39" x2="94.22" y2="625.68" stroke="#303030" stroke-width="0.8"/>
<line x1="78.81" y1="608.08" x2="76.33" y2="609.37" stroke="#303030" stroke-width="0.8"/>
<line x1="60.91" y1="591.76" x2="58.43" y2="593.06" stroke="#303030" stroke-width="0.8"/>
<line x1="43.02" y1="575.45" x2="40.53" y2="576.75" stroke="#303030" stroke-width="0.8"/>
<line x1="35.5" y1="568.6" x2="33.43" y2="566.71" stroke="#303030" stroke-width="0.8"/>
<line x1="35.5" y1="542.88" x2="33.43" y2="541" stroke="#303030" stroke-width="0.8"/>
<line x1="35.5" y1="517.17" x2="33.43" y2="515.28" stroke="#303030" stroke-width="0.8"/>
<line x1="35.5" y1="491.45" x2="33.43" y2="489.56" stroke="#303030" stroke-width="0.8"/>
<line x1="35.5" y1="465.73" x2="33.43" y2="463.85" stroke="#303030" stroke-width="0.8"/>
<line x1="35.5" y1="440.02" x2="33.43" y2="438.13" stroke="#303030" stroke-width="0.8"/>
<line x1="35.5" y1="414.3" x2="33.43" y2="412.41" stroke="#303030" stroke-width="0.8"/>
<text transform="translate(29.72 569.2) scale(0.75 1)" font-size="10.4" text-anchor="end" font-weight="normal" fill="#1e1e1e" stroke="#1e1e1e" stroke-width="0.25">0</text>
<text transform="translate(29.72 543.48) scale(0.75 1)" font-size="10.4" text-anchor="end" font-weight="normal" fill="#1e1e1e" stroke="#1e1e1e" stroke-width="0.25">0.05</text>
<text transform="translate(29.72 517.77) scale(0.75 1)" font-size="10.4" text-anchor="end" font-weight="normal" fill="#1e1e1e" stroke="#1e1e1e" stroke-width="0.25">0.1</text>
<text transform="translate(29.72 492.05) scale(0.75 1)" font-size="10.4" text-anchor="end" font-weight="normal" fill="#1e1e1e" stroke="#1e1e1e" stroke-width="0.25">0.15</text>
<text transform="translate(29.72 466.33) scale(0.75 1)" font-size="10.4" text-anchor="end" font-weight="normal" fill="#1e1e1e" stroke="#1e1e1e" stroke-width="0.25">0.2</text>
<text transform="translate(29.72 440.62) scale(0.75 1)" font-size="10.4" text-anchor="end" font-weight="normal" fill="#1e1e1e" stroke="#1e1e1e" stroke-width="0.25">0.25</text>
<text transform="translate(29.72 414.9) scale(0.75 1)" font-size="10.4" text-anchor="end" font-weight="normal" fill="#1e1e1e" stroke="#1e1e1e" stroke-width="0.25">0.3</text>
<text transform="translate(108 655.1) scale(0.75 1)" font-size="10.4" text-anchor="end" font-weight="normal" fill="#1e1e1e" stroke="#1e1e1e" stroke-width="0.25">-400</text>
<text transform="translate(90.1 638.79) scale(0.75 1)" font-size="10.4" text-anchor="end" font-weight="normal" fill="#1e1e1e" stroke="#1e1e1e" stroke-width="0.25">-300</text>
<text transform="translate(72.21 622.48) scale(0.75 1)" font-size="10.4" text-anchor="end" font-weight="normal" fill="#1e1e1e" stroke="#1e1e1e" stroke-width="0.25">-200</text>
<text transform="translate(54.31 606.16) scale(0.75 1)" font-size="10.4" text-anchor="end" font-weight="normal" fill="#1e1e1e" stroke="#1e1e1e" stroke-width="0.25">-100</text>
<text transform="translate(36.41 589.85) scale(0.75 1)" font-size="10.4" text-anchor="end" font-weight="normal" fill="#1e1e1e" stroke="#1e1e1e" stroke-width="0.25">0</text>
<text transform="translate(119.8 656.1) scale(0.75 1)" font-size="10.4" text-anchor="start" font-weight="normal" fill="#1e1e1e" stroke="#1e1e1e" stroke-width="0.25">-1500</text>
<text transform="translate(154.07 638.2) scale(0.75 1)" font-size="10.4" text-anchor="start" font-weight="normal" fill="#1e1e1e" stroke="#1e1e1e" stroke-width="0.25">-1000</text>
<text transform="translate(188.33 620.3) scale(0.75 1)" font-size="10.4" text-anchor="start" font-weight="normal" fill="#1e1e1e" stroke="#1e1e1e" stroke-width="0.25">-500</text>
<text transform="translate(222.6 602.4) scale(0.75 1)" font-size="10.4" text-anchor="start" font-weight="normal" fill="#1e1e1e" stroke="#1e1e1e" stroke-width="0.25">0</text>
<text transform="translate(175.9 656.9) scale(0.75 1)" font-size="10.4" text-anchor="middle" font-weight="normal" fill="#1e1e1e" stroke="#1e1e1e" stroke-width="0.25">f1</text>
<text transform="translate(61.9 652.9) scale(0.75 1)" font-size="10.4" text-anchor="middle" font-weight="normal" fill="#1e1e1e" stroke="#1e1e1e" stroke-width="0.25">f2</text>
<text transform="translate(8.5 492.4) scale(0.75 1) rotate(-90)" font-size="10.4" text-anchor="middle" font-weight="normal" fill="#1e1e1e" stroke="#1e1e1e" stroke-width="0.25">f3</text>
<text transform="translate(126.6 355.7) scale(0.72 1)" font-size="12" text-anchor="middle" font-weight="bold" fill="#000">MOPSO</text>
<path d="M125.3 466.25L126.24 467.8L127.27 468.9L126.24 470L125.3 471.55L124.36 470L123.33 468.9L124.36 467.8Z" fill="#ff0000"/>
<path d="M150.1 475.05L151.04 476.6L152.07 477.7L151.04 478.8L150.1 480.35L149.16 478.8L148.13 477.7L149.16 476.6Z" fill="#ff0000"/>
<path d="M72.7 479.55L73.64 481.1L74.67 482.2L73.64 483.3L72.7 484.85L71.76 483.3L70.73 482.2L71.76 481.1Z" fill="#ff0000"/>
<path d="M105.5 478.75L106.44 480.3L107.47 481.4L106.44 482.5L105.5 484.05L104.56 482.5L103.53 481.4L104.56 480.3Z" fill="#ff0000"/>
<path d="M130 478.75L130.94 480.3L131.97 481.4L130.94 482.5L130 484.05L129.06 482.5L128.03 481.4L129.06 480.3Z" fill="#ff0000"/>
<path d="M91.3 482.55L92.24 484.1L93.27 485.2L92.24 486.3L91.3 487.85L90.36 486.3L89.33 485.2L90.36 484.1Z" fill="#ff0000"/>
<path d="M114.8 481.45L115.74 483L116.77 484.1L115.74 485.2L114.8 486.75L113.86 485.2L112.83 484.1L113.86 483Z" fill="#ff0000"/>
<path d="M110.3 485.85L111.24 487.4L112.27 488.5L111.24 489.6L110.3 491.15L109.36 489.6L108.33 488.5L109.36 487.4Z" fill="#ff0000"/>
<path d="M67 488.65L67.94 490.2L68.97 491.3L67.94 492.4L67 493.95L66.06 492.4L65.03 491.3L66.06 490.2Z" fill="#ff0000"/>
<path d="M103.4 488.65L104.34 490.2L105.37 491.3L104.34 492.4L103.4 493.95L102.46 492.4L101.43 491.3L102.46 490.2Z" fill="#ff0000"/>
<path d="M141.8 491.55L142.74 493.1L143.77 494.2L142.74 495.3L141.8 496.85L140.86 495.3L139.83 494.2L140.86 493.1Z" fill="#ff0000"/>
<path d="M85.6 493.05L86.54 494.6L87.57 495.7L86.54 496.8L85.6 498.35L84.66 496.8L83.63 495.7L84.66 494.6Z" fill="#ff0000"/>
<path d="M114.5 493.75L115.44 495.3L116.47 496.4L115.44 497.5L114.5 499.05L113.56 497.5L112.53 496.4L113.56 495.3Z" fill="#ff0000"/>
<path d="M57 498.55L57.94 500.1L58.97 501.2L57.94 502.3L57 503.85L56.06 502.3L55.03 501.2L56.06 500.1Z" fill="#ff0000"/>
<path d="M83.5 497.75L84.44 499.3L85.47 500.4L84.44 501.5L83.5 503.05L82.56 501.5L81.53 500.4L82.56 499.3Z" fill="#ff0000"/>
<path d="M120.5 499.15L121.44 500.7L122.47 501.8L121.44 502.9L120.5 504.45L119.56 502.9L118.53 501.8L119.56 500.7Z" fill="#ff0000"/>
<path d="M92.4 502.85L93.34 504.4L94.37 505.5L93.34 506.6L92.4 508.15L91.46 506.6L90.43 505.5L91.46 504.4Z" fill="#ff0000"/>
<path d="M101.6 505.15L102.54 506.7L103.57 507.8L102.54 508.9L101.6 510.45L100.66 508.9L99.63 507.8L100.66 506.7Z" fill="#ff0000"/>
<path d="M50.3 507.05L51.24 508.6L52.27 509.7L51.24 510.8L50.3 512.35L49.36 510.8L48.33 509.7L49.36 508.6Z" fill="#ff0000"/>
<path d="M55.6 508.95L56.54 510.5L57.57 511.6L56.54 512.7L55.6 514.25L54.66 512.7L53.63 511.6L54.66 510.5Z" fill="#ff0000"/>
<path d="M112 513.95L112.94 515.5L113.97 516.6L112.94 517.7L112 519.25L111.06 517.7L110.03 516.6L111.06 515.5Z" fill="#ff0000"/>
<path d="M123 514.65L123.94 516.2L124.97 517.3L123.94 518.4L123 519.95L122.06 518.4L121.03 517.3L122.06 516.2Z" fill="#ff0000"/>
<path d="M78.4 519.45L79.34 521L80.37 522.1L79.34 523.2L78.4 524.75L77.46 523.2L76.43 522.1L77.46 521Z" fill="#ff0000"/>
<path d="M85.6 519.95L86.54 521.5L87.57 522.6L86.54 523.7L85.6 525.25L84.66 523.7L83.63 522.6L84.66 521.5Z" fill="#ff0000"/>
<path d="M88.3 516.75L89.24 518.3L90.27 519.4L89.24 520.5L88.3 522.05L87.36 520.5L86.33 519.4L87.36 518.3Z" fill="#ff0000"/>
<path d="M37.6 523.75L38.54 525.3L39.57 526.4L38.54 527.5L37.6 529.05L36.66 527.5L35.63 526.4L36.66 525.3Z" fill="#ff0000"/>
<path d="M103.4 522.85L104.34 524.4L105.37 525.5L104.34 526.6L103.4 528.15L102.46 526.6L101.43 525.5L102.46 524.4Z" fill="#ff0000"/>
<path d="M80.7 526.05L81.64 527.6L82.67 528.7L81.64 529.8L80.7 531.35L79.76 529.8L78.73 528.7L79.76 527.6Z" fill="#ff0000"/>
<path d="M53.6 529.15L54.54 530.7L55.57 531.8L54.54 532.9L53.6 534.45L52.66 532.9L51.63 531.8L52.66 530.7Z" fill="#ff0000"/>
<path d="M96.7 532.45L97.64 534L98.67 535.1L97.64 536.2L96.7 537.75L95.76 536.2L94.73 535.1L95.76 534Z" fill="#ff0000"/>
<path d="M80.7 537.65L81.64 539.2L82.67 540.3L81.64 541.4L80.7 542.95L79.76 541.4L78.73 540.3L79.76 539.2Z" fill="#ff0000"/>
<path d="M83.3 540.85L84.24 542.4L85.27 543.5L84.24 544.6L83.3 546.15L82.36 544.6L81.33 543.5L82.36 542.4Z" fill="#ff0000"/>
<path d="M77 543.75L77.94 545.3L78.97 546.4L77.94 547.5L77 549.05L76.06 547.5L75.03 546.4L76.06 545.3Z" fill="#ff0000"/>
<path d="M77 546.25L77.94 547.8L78.97 548.9L77.94 550L77 551.55L76.06 550L75.03 548.9L76.06 547.8Z" fill="#ff0000"/>
<path d="M83.7 545.65L84.64 547.2L85.67 548.3L84.64 549.4L83.7 550.95L82.76 549.4L81.73 548.3L82.76 547.2Z" fill="#ff0000"/>
<path d="M87.4 543.75L88.34 545.3L89.37 546.4L88.34 547.5L87.4 549.05L86.46 547.5L85.43 546.4L86.46 545.3Z" fill="#ff0000"/>
<path d="M89.6 544.75L90.54 546.3L91.57 547.4L90.54 548.5L89.6 550.05L88.66 548.5L87.63 547.4L88.66 546.3Z" fill="#ff0000"/>
<path d="M95.7 545.65L96.64 547.2L97.67 548.3L96.64 549.4L95.7 550.95L94.76 549.4L93.73 548.3L94.76 547.2Z" fill="#ff0000"/>
<path d="M99 544.15L99.94 545.7L100.97 546.8L99.94 547.9L99 549.45L98.06 547.9L97.03 546.8L98.06 545.7Z" fill="#ff0000"/>
<path d="M98.6 548.15L99.54 549.7L100.57 550.8L99.54 551.9L98.6 553.45L97.66 551.9L96.63 550.8L97.66 549.7Z" fill="#ff0000"/>
<path d="M108.8 543.35L109.74 544.9L110.77 546L109.74 547.1L108.8 548.65L107.86 547.1L106.83 546L107.86 544.9Z" fill="#ff0000"/>
<path d="M111 544.15L111.94 545.7L112.97 546.8L111.94 547.9L111 549.45L110.06 547.9L109.03 546.8L110.06 545.7Z" fill="#ff0000"/>
<path d="M80.4 550.55L81.34 552.1L82.37 553.2L81.34 554.3L80.4 555.85L79.46 554.3L78.43 553.2L79.46 552.1Z" fill="#ff0000"/>
<path d="M71.6 552.75L72.54 554.3L73.57 555.4L72.54 556.5L71.6 558.05L70.66 556.5L69.63 555.4L70.66 554.3Z" fill="#ff0000"/>
<path d="M77.4 557.65L78.34 559.2L79.37 560.3L78.34 561.4L77.4 562.95L76.46 561.4L75.43 560.3L76.46 559.2Z" fill="#ff0000"/>
<path d="M78.2 556.85L79.14 558.4L80.17 559.5L79.14 560.6L78.2 562.15L77.26 560.6L76.23 559.5L77.26 558.4Z" fill="#ff0000"/>
<path d="M87.4 555.45L88.34 557L89.37 558.1L88.34 559.2L87.4 560.75L86.46 559.2L85.43 558.1L86.46 557Z" fill="#ff0000"/>
<path d="M89.9 554.35L90.84 555.9L91.87 557L90.84 558.1L89.9 559.65L88.96 558.1L87.93 557L88.96 555.9Z" fill="#ff0000"/>
<path d="M92 552.95L92.94 554.5L93.97 555.6L92.94 556.7L92 558.25L91.06 556.7L90.03 555.6L91.06 554.5Z" fill="#ff0000"/>
<path d="M93.1 555.75L94.04 557.3L95.07 558.4L94.04 559.5L93.1 561.05L92.16 559.5L91.13 558.4L92.16 557.3Z" fill="#ff0000"/>
<path d="M61.4 556.15L62.34 557.7L63.37 558.8L62.34 559.9L61.4 561.45L60.46 559.9L59.43 558.8L60.46 557.7Z" fill="#ff0000"/>
<path d="M57.7 559.75L58.64 561.3L59.67 562.4L58.64 563.5L57.7 565.05L56.76 563.5L55.73 562.4L56.76 561.3Z" fill="#ff0000"/>
<path d="M62.1 560.05L63.04 561.6L64.07 562.7L63.04 563.8L62.1 565.35L61.16 563.8L60.13 562.7L61.16 561.6Z" fill="#ff0000"/>
<path d="M65.3 561.95L66.24 563.5L67.27 564.6L66.24 565.7L65.3 567.25L64.36 565.7L63.33 564.6L64.36 563.5Z" fill="#ff0000"/>
<path d="M50.9 562.75L51.84 564.3L52.87 565.4L51.84 566.5L50.9 568.05L49.96 566.5L48.93 565.4L49.96 564.3Z" fill="#ff0000"/>
<path d="M51.9 566.05L52.84 567.6L53.87 568.7L52.84 569.8L51.9 571.35L50.96 569.8L49.93 568.7L50.96 567.6Z" fill="#ff0000"/>
<ellipse cx="146.2" cy="521.7" rx="3.22" ry="4.4" fill="#00f000" stroke="#111" stroke-width="0.8"/>
<ellipse cx="146.2" cy="521.7" rx="1.42" ry="2.2" fill="none" stroke="#031" stroke-width="0.9"/>
<rect x="240.8" y="361.3" width="67.4" height="29" fill="#fff" stroke="#6a6a6a" stroke-width="1.3"/>
<ellipse cx="254.2" cy="369.29" rx="3.22" ry="4.2" fill="#00f000" stroke="#000" stroke-width="0.7"/>
<path d="M254.2 380.25L255.14 381.8L256.17 382.9L255.14 384L254.2 385.55L253.26 384L252.23 382.9L253.26 381.8Z" fill="#ff0000"/>
<text transform="translate(267.7 373.29) scale(0.69 1)" font-size="10.4" text-anchor="start" font-weight="normal" fill="#1e1e1e" stroke="#1e1e1e" stroke-width="0.25">BCS</text>
<text transform="translate(267.7 386.2) scale(0.69 1)" font-size="10.4" text-anchor="start" font-weight="normal" fill="#1e1e1e" stroke="#1e1e1e" stroke-width="0.25">obtained PF</text>
<line x1="342.5" y1="573.5" x2="342.5" y2="428.3" stroke="#dcdcdc" stroke-width="0.8"/>
<line x1="428.2" y1="641.5" x2="342.5" y2="573.5" stroke="#dcdcdc" stroke-width="0.8"/>
<line x1="369.75" y1="560.52" x2="369.75" y2="415.32" stroke="#dcdcdc" stroke-width="0.8"/>
<line x1="455.45" y1="628.52" x2="369.75" y2="560.52" stroke="#dcdcdc" stroke-width="0.8"/>
<line x1="397" y1="547.55" x2="397" y2="402.35" stroke="#dcdcdc" stroke-width="0.8"/>
<line x1="482.7" y1="615.55" x2="397" y2="547.55" stroke="#dcdcdc" stroke-width="0.8"/>
<line x1="424.25" y1="534.58" x2="424.25" y2="389.38" stroke="#dcdcdc" stroke-width="0.8"/>
<line x1="509.95" y1="602.58" x2="424.25" y2="534.58" stroke="#dcdcdc" stroke-width="0.8"/>
<line x1="451.5" y1="521.6" x2="451.5" y2="376.4" stroke="#dcdcdc" stroke-width="0.8"/>
<line x1="537.2" y1="589.6" x2="451.5" y2="521.6" stroke="#dcdcdc" stroke-width="0.8"/>
<line x1="342.5" y1="573.5" x2="451.5" y2="521.6" stroke="#dcdcdc" stroke-width="0.8"/>
<line x1="451.5" y1="521.6" x2="537.2" y2="589.6" stroke="#dcdcdc" stroke-width="0.8"/>
<line x1="342.5" y1="549.3" x2="451.5" y2="497.4" stroke="#dcdcdc" stroke-width="0.8"/>
<line x1="451.5" y1="497.4" x2="537.2" y2="565.4" stroke="#dcdcdc" stroke-width="0.8"/>
<line x1="342.5" y1="525.1" x2="451.5" y2="473.2" stroke="#dcdcdc" stroke-width="0.8"/>
<line x1="451.5" y1="473.2" x2="537.2" y2="541.2" stroke="#dcdcdc" stroke-width="0.8"/>
<line x1="342.5" y1="500.9" x2="451.5" y2="449" stroke="#dcdcdc" stroke-width="0.8"/>
<line x1="451.5" y1="449" x2="537.2" y2="517" stroke="#dcdcdc" stroke-width="0.8"/>
<line x1="342.5" y1="476.7" x2="451.5" y2="424.8" stroke="#dcdcdc" stroke-width="0.8"/>
<line x1="451.5" y1="424.8" x2="537.2" y2="492.8" stroke="#dcdcdc" stroke-width="0.8"/>
<line x1="342.5" y1="452.5" x2="451.5" y2="400.6" stroke="#dcdcdc" stroke-width="0.8"/>
<line x1="451.5" y1="400.6" x2="537.2" y2="468.6" stroke="#dcdcdc" stroke-width="0.8"/>
<line x1="342.5" y1="428.3" x2="451.5" y2="376.4" stroke="#dcdcdc" stroke-width="0.8"/>
<line x1="451.5" y1="376.4" x2="537.2" y2="444.4" stroke="#dcdcdc" stroke-width="0.8"/>
<line x1="527.87" y1="582.19" x2="527.87" y2="436.99" stroke="#dcdcdc" stroke-width="0.8"/>
<line x1="418.87" y1="634.09" x2="527.87" y2="582.19" stroke="#dcdcdc" stroke-width="0.8"/>
<line x1="510.9" y1="568.73" x2="510.9" y2="423.53" stroke="#dcdcdc" stroke-width="0.8"/>
<line x1="401.9" y1="620.63" x2="510.9" y2="568.73" stroke="#dcdcdc" stroke-width="0.8"/>
<line x1="493.93" y1="555.26" x2="493.93" y2="410.06" stroke="#dcdcdc" stroke-width="0.8"/>
<line x1="384.93" y1="607.16" x2="493.93" y2="555.26" stroke="#dcdcdc" stroke-width="0.8"/>
<line x1="476.96" y1="541.8" x2="476.96" y2="396.6" stroke="#dcdcdc" stroke-width="0.8"/>
<line x1="367.96" y1="593.7" x2="476.96" y2="541.8" stroke="#dcdcdc" stroke-width="0.8"/>
<line x1="459.99" y1="528.33" x2="459.99" y2="383.13" stroke="#dcdcdc" stroke-width="0.8"/>
<line x1="350.99" y1="580.23" x2="459.99" y2="528.33" stroke="#dcdcdc" stroke-width="0.8"/>
<line x1="342.5" y1="573.5" x2="342.5" y2="428.3" stroke="#303030" stroke-width="0.9"/>
<line x1="342.5" y1="573.5" x2="428.2" y2="641.5" stroke="#303030" stroke-width="0.9"/>
<line x1="428.2" y1="641.5" x2="537.2" y2="589.6" stroke="#303030" stroke-width="0.9"/>
<line x1="428.2" y1="641.5" x2="430.39" y2="643.24" stroke="#303030" stroke-width="0.8"/>
<line x1="455.45" y1="628.52" x2="457.64" y2="630.27" stroke="#303030" stroke-width="0.8"/>
<line x1="482.7" y1="615.55" x2="484.89" y2="617.29" stroke="#303030" stroke-width="0.8"/>
<line x1="509.95" y1="602.58" x2="512.14" y2="604.32" stroke="#303030" stroke-width="0.8"/>
<line x1="537.2" y1="589.6" x2="539.39" y2="591.34" stroke="#303030" stroke-width="0.8"/>
<line x1="418.87" y1="634.09" x2="416.34" y2="635.3" stroke="#303030" stroke-width="0.8"/>
<line x1="401.9" y1="620.63" x2="399.37" y2="621.83" stroke="#303030" stroke-width="0.8"/>
<line x1="384.93" y1="607.16" x2="382.4" y2="608.37" stroke="#303030" stroke-width="0.8"/>
<line x1="367.96" y1="593.7" x2="365.43" y2="594.9" stroke="#303030" stroke-width="0.8"/>
<line x1="350.99" y1="580.23" x2="348.46" y2="581.44" stroke="#303030" stroke-width="0.8"/>
<line x1="342.5" y1="573.5" x2="340.31" y2="571.76" stroke="#303030" stroke-width="0.8"/>
<line x1="342.5" y1="549.3" x2="340.31" y2="547.56" stroke="#303030" stroke-width="0.8"/>
<line x1="342.5" y1="525.1" x2="340.31" y2="523.36" stroke="#303030" stroke-width="0.8"/>
<line x1="342.5" y1="500.9" x2="340.31" y2="499.16" stroke="#303030" stroke-width="0.8"/>
<line x1="342.5" y1="476.7" x2="340.31" y2="474.96" stroke="#303030" stroke-width="0.8"/>
<line x1="342.5" y1="452.5" x2="340.31" y2="450.76" stroke="#303030" stroke-width="0.8"/>
<line x1="342.5" y1="428.3" x2="340.31" y2="426.56" stroke="#303030" stroke-width="0.8"/>
<text transform="translate(336.46 574.1) scale(0.79 1)" font-size="10.4" text-anchor="end" font-weight="normal" fill="#1e1e1e" stroke="#1e1e1e" stroke-width="0.25">0</text>
<text transform="translate(336.46 549.9) scale(0.79 1)" font-size="10.4" text-anchor="end" font-weight="normal" fill="#1e1e1e" stroke="#1e1e1e" stroke-width="0.25">0.2</text>
<text transform="translate(336.46 525.7) scale(0.79 1)" font-size="10.4" text-anchor="end" font-weight="normal" fill="#1e1e1e" stroke="#1e1e1e" stroke-width="0.25">0.4</text>
<text transform="translate(336.46 501.5) scale(0.79 1)" font-size="10.4" text-anchor="end" font-weight="normal" fill="#1e1e1e" stroke="#1e1e1e" stroke-width="0.25">0.6</text>
<text transform="translate(336.46 477.3) scale(0.79 1)" font-size="10.4" text-anchor="end" font-weight="normal" fill="#1e1e1e" stroke="#1e1e1e" stroke-width="0.25">0.8</text>
<text transform="translate(336.46 453.1) scale(0.79 1)" font-size="10.4" text-anchor="end" font-weight="normal" fill="#1e1e1e" stroke="#1e1e1e" stroke-width="0.25">1</text>
<text transform="translate(336.46 428.9) scale(0.79 1)" font-size="10.4" text-anchor="end" font-weight="normal" fill="#1e1e1e" stroke="#1e1e1e" stroke-width="0.25">1.2</text>
<text transform="translate(411.97 648.49) scale(0.79 1)" font-size="10.4" text-anchor="end" font-weight="normal" fill="#1e1e1e" stroke="#1e1e1e" stroke-width="0.25">-200</text>
<text transform="translate(395 635.03) scale(0.79 1)" font-size="10.4" text-anchor="end" font-weight="normal" fill="#1e1e1e" stroke="#1e1e1e" stroke-width="0.25">-100</text>
<text transform="translate(378.03 621.56) scale(0.79 1)" font-size="10.4" text-anchor="end" font-weight="normal" fill="#1e1e1e" stroke="#1e1e1e" stroke-width="0.25">0</text>
<text transform="translate(361.06 608.1) scale(0.79 1)" font-size="10.4" text-anchor="end" font-weight="normal" fill="#1e1e1e" stroke="#1e1e1e" stroke-width="0.25">100</text>
<text transform="translate(344.09 594.63) scale(0.79 1)" font-size="10.4" text-anchor="end" font-weight="normal" fill="#1e1e1e" stroke="#1e1e1e" stroke-width="0.25">200</text>
<text transform="translate(432.9 656.2) scale(0.79 1)" font-size="10.4" text-anchor="start" font-weight="normal" fill="#1e1e1e" stroke="#1e1e1e" stroke-width="0.25">-1500</text>
<text transform="translate(460.15 643.23) scale(0.79 1)" font-size="10.4" text-anchor="start" font-weight="normal" fill="#1e1e1e" stroke="#1e1e1e" stroke-width="0.25">-1000</text>
<text transform="translate(487.4 630.25) scale(0.79 1)" font-size="10.4" text-anchor="start" font-weight="normal" fill="#1e1e1e" stroke="#1e1e1e" stroke-width="0.25">-500</text>
<text transform="translate(514.65 617.28) scale(0.79 1)" font-size="10.4" text-anchor="start" font-weight="normal" fill="#1e1e1e" stroke="#1e1e1e" stroke-width="0.25">0</text>
<text transform="translate(541.9 604.3) scale(0.79 1)" font-size="10.4" text-anchor="start" font-weight="normal" fill="#1e1e1e" stroke="#1e1e1e" stroke-width="0.25">500</text>
<text transform="translate(491.5 656.4) scale(0.79 1)" font-size="10.4" text-anchor="middle" font-weight="normal" fill="#1e1e1e" stroke="#1e1e1e" stroke-width="0.25">f1</text>
<text transform="translate(372 653) scale(0.79 1)" font-size="10.4" text-anchor="middle" font-weight="normal" fill="#1e1e1e" stroke="#1e1e1e" stroke-width="0.25">f2</text>
<text transform="translate(318.4 501.4) scale(0.79 1) rotate(-90)" font-size="10.4" text-anchor="middle" font-weight="normal" fill="#1e1e1e" stroke="#1e1e1e" stroke-width="0.25">f3</text>
<text transform="translate(439.4 372.7) scale(0.74 1)" font-size="12" text-anchor="middle" font-weight="bold" fill="#000">MOHS</text>
<path d="M353.9 482.25L354.88 483.8L355.95 484.9L354.88 486L353.9 487.55L352.92 486L351.85 484.9L352.92 483.8Z" fill="#ff0000"/>
<path d="M375 476.85L375.98 478.4L377.05 479.5L375.98 480.6L375 482.15L374.02 480.6L372.95 479.5L374.02 478.4Z" fill="#ff0000"/>
<path d="M387.9 477.85L388.88 479.4L389.95 480.5L388.88 481.6L387.9 483.15L386.92 481.6L385.85 480.5L386.92 479.4Z" fill="#ff0000"/>
<path d="M412.6 482.25L413.58 483.8L414.65 484.9L413.58 486L412.6 487.55L411.62 486L410.55 484.9L411.62 483.8Z" fill="#ff0000"/>
<path d="M397.7 503.15L398.68 504.7L399.75 505.8L398.68 506.9L397.7 508.45L396.72 506.9L395.65 505.8L396.72 504.7Z" fill="#ff0000"/>
<path d="M386.7 537.75L387.68 539.3L388.75 540.4L387.68 541.5L386.7 543.05L385.72 541.5L384.65 540.4L385.72 539.3Z" fill="#ff0000"/>
<path d="M399.1 548.65L400.08 550.2L401.15 551.3L400.08 552.4L399.1 553.95L398.12 552.4L397.05 551.3L398.12 550.2Z" fill="#ff0000"/>
<path d="M390.4 555.65L391.38 557.2L392.45 558.3L391.38 559.4L390.4 560.95L389.42 559.4L388.35 558.3L389.42 557.2Z" fill="#ff0000"/>
<path d="M381 565.95L381.98 567.5L383.05 568.6L381.98 569.7L381 571.25L380.02 569.7L378.95 568.6L380.02 567.5Z" fill="#ff0000"/>
<path d="M412 564.95L412.98 566.5L414.05 567.6L412.98 568.7L412 570.25L411.02 568.7L409.95 567.6L411.02 566.5Z" fill="#ff0000"/>
<path d="M417 564.25L417.98 565.8L419.05 566.9L417.98 568L417 569.55L416.02 568L414.95 566.9L416.02 565.8Z" fill="#ff0000"/>
<path d="M432.8 561.05L433.78 562.6L434.85 563.7L433.78 564.8L432.8 566.35L431.82 564.8L430.75 563.7L431.82 562.6Z" fill="#ff0000"/>
<path d="M451 560.55L451.98 562.1L453.05 563.2L451.98 564.3L451 565.85L450.02 564.3L448.95 563.2L450.02 562.1Z" fill="#ff0000"/>
<path d="M457.3 563.05L458.28 564.6L459.35 565.7L458.28 566.8L457.3 568.35L456.32 566.8L455.25 565.7L456.32 564.6Z" fill="#ff0000"/>
<path d="M425.9 570.85L426.88 572.4L427.95 573.5L426.88 574.6L425.9 576.15L424.92 574.6L423.85 573.5L424.92 572.4Z" fill="#ff0000"/>
<path d="M428 569.65L428.98 571.2L430.05 572.3L428.98 573.4L428 574.95L427.02 573.4L425.95 572.3L427.02 571.2Z" fill="#ff0000"/>
<path d="M448.1 571.55L449.08 573.1L450.15 574.2L449.08 575.3L448.1 576.85L447.12 575.3L446.05 574.2L447.12 573.1Z" fill="#ff0000"/>
<path d="M434.2 576.65L435.18 578.2L436.25 579.3L435.18 580.4L434.2 581.95L433.22 580.4L432.15 579.3L433.22 578.2Z" fill="#ff0000"/>
<path d="M441.1 575.65L442.08 577.2L443.15 578.3L442.08 579.4L441.1 580.95L440.12 579.4L439.05 578.3L440.12 577.2Z" fill="#ff0000"/>
<path d="M444.2 578.55L445.18 580.1L446.25 581.2L445.18 582.3L444.2 583.85L443.22 582.3L442.15 581.2L443.22 580.1Z" fill="#ff0000"/>
<path d="M451.3 577.65L452.28 579.2L453.35 580.3L452.28 581.4L451.3 582.95L450.32 581.4L449.25 580.3L450.32 579.2Z" fill="#ff0000"/>
<path d="M453.5 577.65L454.48 579.2L455.55 580.3L454.48 581.4L453.5 582.95L452.52 581.4L451.45 580.3L452.52 579.2Z" fill="#ff0000"/>
<path d="M464.2 581.05L465.18 582.6L466.25 583.7L465.18 584.8L464.2 586.35L463.22 584.8L462.15 583.7L463.22 582.6Z" fill="#ff0000"/>
<path d="M410.6 582.95L411.58 584.5L412.65 585.6L411.58 586.7L410.6 588.25L409.62 586.7L408.55 585.6L409.62 584.5Z" fill="#ff0000"/>
<path d="M411.6 585.85L412.58 587.4L413.65 588.5L412.58 589.6L411.6 591.15L410.62 589.6L409.55 588.5L410.62 587.4Z" fill="#ff0000"/>
<path d="M420.4 584.95L421.38 586.5L422.45 587.6L421.38 588.7L420.4 590.25L419.42 588.7L418.35 587.6L419.42 586.5Z" fill="#ff0000"/>
<path d="M435.7 584.65L436.68 586.2L437.75 587.3L436.68 588.4L435.7 589.95L434.72 588.4L433.65 587.3L434.72 586.2Z" fill="#ff0000"/>
<path d="M439.6 583.25L440.58 584.8L441.65 585.9L440.58 587L439.6 588.55L438.62 587L437.55 585.9L438.62 584.8Z" fill="#ff0000"/>
<path d="M470.3 565.85L471.28 567.4L472.35 568.5L471.28 569.6L470.3 571.15L469.32 569.6L468.25 568.5L469.32 567.4Z" fill="#ff0000"/>
<path d="M480.2 565.85L481.18 567.4L482.25 568.5L481.18 569.6L480.2 571.15L479.22 569.6L478.15 568.5L479.22 567.4Z" fill="#ff0000"/>
<path d="M480.8 567.95L481.78 569.5L482.85 570.6L481.78 571.7L480.8 573.25L479.82 571.7L478.75 570.6L479.82 569.5Z" fill="#ff0000"/>
<path d="M504.7 560.55L505.68 562.1L506.75 563.2L505.68 564.3L504.7 565.85L503.72 564.3L502.65 563.2L503.72 562.1Z" fill="#ff0000"/>
<path d="M509.6 540.15L510.58 541.7L511.65 542.8L510.58 543.9L509.6 545.45L508.62 543.9L507.55 542.8L508.62 541.7Z" fill="#ff0000"/>
<path d="M509.3 542.25L510.28 543.8L511.35 544.9L510.28 546L509.3 547.55L508.32 546L507.25 544.9L508.32 543.8Z" fill="#ff0000"/>
<path d="M510.6 551.25L511.58 552.8L512.65 553.9L511.58 555L510.6 556.55L509.62 555L508.55 553.9L509.62 552.8Z" fill="#ff0000"/>
<path d="M515.7 549.25L516.68 550.8L517.75 551.9L516.68 553L515.7 554.55L514.73 553L513.65 551.9L514.73 550.8Z" fill="#ff0000"/>
<path d="M528.9 548.65L529.88 550.2L530.95 551.3L529.88 552.4L528.9 553.95L527.92 552.4L526.85 551.3L527.92 550.2Z" fill="#ff0000"/>
<ellipse cx="465.7" cy="568.3" rx="3.35" ry="4.4" fill="#00f000" stroke="#111" stroke-width="0.8"/>
<ellipse cx="465.7" cy="568.3" rx="1.48" ry="2.2" fill="none" stroke="#031" stroke-width="0.9"/>
<rect x="560.4" y="377.8" width="70.4" height="27.4" fill="#fff" stroke="#6a6a6a" stroke-width="1.3"/>
<ellipse cx="574.5" cy="385.34" rx="3.35" ry="4.2" fill="#00f000" stroke="#000" stroke-width="0.7"/>
<path d="M574.5 395.57L575.48 397.12L576.55 398.22L575.48 399.32L574.5 400.87L573.52 399.32L572.45 398.22L573.52 397.12Z" fill="#ff0000"/>
<text transform="translate(589.1 389.34) scale(0.72 1)" font-size="10.4" text-anchor="start" font-weight="normal" fill="#1e1e1e" stroke="#1e1e1e" stroke-width="0.25">BCS</text>
<text transform="translate(589.1 401.52) scale(0.72 1)" font-size="10.4" text-anchor="start" font-weight="normal" fill="#1e1e1e" stroke="#1e1e1e" stroke-width="0.25">obtained PF</text>
<line x1="31.3" y1="931.8" x2="31.3" y2="778.8" stroke="#dcdcdc" stroke-width="0.8"/>
<line x1="109.05" y1="1000.18" x2="31.3" y2="931.8" stroke="#dcdcdc" stroke-width="0.8"/>
<line x1="66.03" y1="913.93" x2="66.03" y2="760.93" stroke="#dcdcdc" stroke-width="0.8"/>
<line x1="143.78" y1="982.32" x2="66.03" y2="913.93" stroke="#dcdcdc" stroke-width="0.8"/>
<line x1="100.77" y1="896.07" x2="100.77" y2="743.07" stroke="#dcdcdc" stroke-width="0.8"/>
<line x1="178.51" y1="964.45" x2="100.77" y2="896.07" stroke="#dcdcdc" stroke-width="0.8"/>
<line x1="135.5" y1="878.2" x2="135.5" y2="725.2" stroke="#dcdcdc" stroke-width="0.8"/>
<line x1="213.25" y1="946.58" x2="135.5" y2="878.2" stroke="#dcdcdc" stroke-width="0.8"/>
<line x1="31.3" y1="931.8" x2="135.5" y2="878.2" stroke="#dcdcdc" stroke-width="0.8"/>
<line x1="135.5" y1="878.2" x2="213.25" y2="946.58" stroke="#dcdcdc" stroke-width="0.8"/>
<line x1="31.3" y1="906.3" x2="135.5" y2="852.7" stroke="#dcdcdc" stroke-width="0.8"/>
<line x1="135.5" y1="852.7" x2="213.25" y2="921.08" stroke="#dcdcdc" stroke-width="0.8"/>
<line x1="31.3" y1="880.8" x2="135.5" y2="827.2" stroke="#dcdcdc" stroke-width="0.8"/>
<line x1="135.5" y1="827.2" x2="213.25" y2="895.58" stroke="#dcdcdc" stroke-width="0.8"/>
<line x1="31.3" y1="855.3" x2="135.5" y2="801.7" stroke="#dcdcdc" stroke-width="0.8"/>
<line x1="135.5" y1="801.7" x2="213.25" y2="870.08" stroke="#dcdcdc" stroke-width="0.8"/>
<line x1="31.3" y1="829.8" x2="135.5" y2="776.2" stroke="#dcdcdc" stroke-width="0.8"/>
<line x1="135.5" y1="776.2" x2="213.25" y2="844.58" stroke="#dcdcdc" stroke-width="0.8"/>
<line x1="31.3" y1="804.3" x2="135.5" y2="750.7" stroke="#dcdcdc" stroke-width="0.8"/>
<line x1="135.5" y1="750.7" x2="213.25" y2="819.08" stroke="#dcdcdc" stroke-width="0.8"/>
<line x1="31.3" y1="778.8" x2="135.5" y2="725.2" stroke="#dcdcdc" stroke-width="0.8"/>
<line x1="135.5" y1="725.2" x2="213.25" y2="793.58" stroke="#dcdcdc" stroke-width="0.8"/>
<line x1="213.25" y1="946.58" x2="213.25" y2="793.58" stroke="#dcdcdc" stroke-width="0.8"/>
<line x1="109.05" y1="1000.18" x2="213.25" y2="946.58" stroke="#dcdcdc" stroke-width="0.8"/>
<line x1="187.33" y1="923.79" x2="187.33" y2="770.79" stroke="#dcdcdc" stroke-width="0.8"/>
<line x1="83.13" y1="977.39" x2="187.33" y2="923.79" stroke="#dcdcdc" stroke-width="0.8"/>
<line x1="161.42" y1="900.99" x2="161.42" y2="747.99" stroke="#dcdcdc" stroke-width="0.8"/>
<line x1="57.22" y1="954.59" x2="161.42" y2="900.99" stroke="#dcdcdc" stroke-width="0.8"/>
<line x1="135.5" y1="878.2" x2="135.5" y2="725.2" stroke="#dcdcdc" stroke-width="0.8"/>
<line x1="31.3" y1="931.8" x2="135.5" y2="878.2" stroke="#dcdcdc" stroke-width="0.8"/>
<line x1="31.3" y1="931.8" x2="31.3" y2="778.8" stroke="#303030" stroke-width="0.9"/>
<line x1="31.3" y1="931.8" x2="111" y2="1001.9" stroke="#303030" stroke-width="0.9"/>
<line x1="111" y1="1001.9" x2="215.2" y2="948.3" stroke="#303030" stroke-width="0.9"/>
<line x1="111" y1="1001.9" x2="113.1" y2="1003.75" stroke="#303030" stroke-width="0.8"/>
<line x1="145.73" y1="984.03" x2="147.84" y2="985.88" stroke="#303030" stroke-width="0.8"/>
<line x1="180.47" y1="966.17" x2="182.57" y2="968.02" stroke="#303030" stroke-width="0.8"/>
<line x1="215.2" y1="948.3" x2="217.3" y2="950.15" stroke="#303030" stroke-width="0.8"/>
<line x1="109.05" y1="1000.18" x2="106.56" y2="1001.46" stroke="#303030" stroke-width="0.8"/>
<line x1="83.13" y1="977.39" x2="80.64" y2="978.67" stroke="#303030" stroke-width="0.8"/>
<line x1="57.22" y1="954.59" x2="54.73" y2="955.88" stroke="#303030" stroke-width="0.8"/>
<line x1="31.3" y1="931.8" x2="28.81" y2="933.08" stroke="#303030" stroke-width="0.8"/>
<line x1="31.3" y1="931.8" x2="29.2" y2="929.95" stroke="#303030" stroke-width="0.8"/>
<line x1="31.3" y1="906.3" x2="29.2" y2="904.45" stroke="#303030" stroke-width="0.8"/>
<line x1="31.3" y1="880.8" x2="29.2" y2="878.95" stroke="#303030" stroke-width="0.8"/>
<line x1="31.3" y1="855.3" x2="29.2" y2="853.45" stroke="#303030" stroke-width="0.8"/>
<line x1="31.3" y1="829.8" x2="29.2" y2="827.95" stroke="#303030" stroke-width="0.8"/>
<line x1="31.3" y1="804.3" x2="29.2" y2="802.45" stroke="#303030" stroke-width="0.8"/>
<line x1="31.3" y1="778.8" x2="29.2" y2="776.95" stroke="#303030" stroke-width="0.8"/>
<text transform="translate(25.7 932.4) scale(0.73 1)" font-size="10.4" text-anchor="end" font-weight="normal" fill="#1e1e1e" stroke="#1e1e1e" stroke-width="0.25">0</text>
<text transform="translate(25.7 906.9) scale(0.73 1)" font-size="10.4" text-anchor="end" font-weight="normal" fill="#1e1e1e" stroke="#1e1e1e" stroke-width="0.25">0.1</text>
<text transform="translate(25.7 881.4) scale(0.73 1)" font-size="10.4" text-anchor="end" font-weight="normal" fill="#1e1e1e" stroke="#1e1e1e" stroke-width="0.25">0.2</text>
<text transform="translate(25.7 855.9) scale(0.73 1)" font-size="10.4" text-anchor="end" font-weight="normal" fill="#1e1e1e" stroke="#1e1e1e" stroke-width="0.25">0.3</text>
<text transform="translate(25.7 830.4) scale(0.73 1)" font-size="10.4" text-anchor="end" font-weight="normal" fill="#1e1e1e" stroke="#1e1e1e" stroke-width="0.25">0.4</text>
<text transform="translate(25.7 804.9) scale(0.73 1)" font-size="10.4" text-anchor="end" font-weight="normal" fill="#1e1e1e" stroke="#1e1e1e" stroke-width="0.25">0.5</text>
<text transform="translate(25.7 779.4) scale(0.73 1)" font-size="10.4" text-anchor="end" font-weight="normal" fill="#1e1e1e" stroke="#1e1e1e" stroke-width="0.25">0.6</text>
<text transform="translate(102.65 1014.58) scale(0.73 1)" font-size="10.4" text-anchor="end" font-weight="normal" fill="#1e1e1e" stroke="#1e1e1e" stroke-width="0.25">-600</text>
<text transform="translate(76.73 991.79) scale(0.73 1)" font-size="10.4" text-anchor="end" font-weight="normal" fill="#1e1e1e" stroke="#1e1e1e" stroke-width="0.25">-400</text>
<text transform="translate(50.82 968.99) scale(0.73 1)" font-size="10.4" text-anchor="end" font-weight="normal" fill="#1e1e1e" stroke="#1e1e1e" stroke-width="0.25">-200</text>
<text transform="translate(24.9 946.2) scale(0.73 1)" font-size="10.4" text-anchor="end" font-weight="normal" fill="#1e1e1e" stroke="#1e1e1e" stroke-width="0.25">0</text>
<text transform="translate(116.3 1017.6) scale(0.73 1)" font-size="10.4" text-anchor="start" font-weight="normal" fill="#1e1e1e" stroke="#1e1e1e" stroke-width="0.25">-1500</text>
<text transform="translate(151.03 999.73) scale(0.73 1)" font-size="10.4" text-anchor="start" font-weight="normal" fill="#1e1e1e" stroke="#1e1e1e" stroke-width="0.25">-1000</text>
<text transform="translate(185.77 981.87) scale(0.73 1)" font-size="10.4" text-anchor="start" font-weight="normal" fill="#1e1e1e" stroke="#1e1e1e" stroke-width="0.25">-500</text>
<text transform="translate(220.5 964) scale(0.73 1)" font-size="10.4" text-anchor="start" font-weight="normal" fill="#1e1e1e" stroke="#1e1e1e" stroke-width="0.25">0</text>
<text transform="translate(172.7 1018) scale(0.73 1)" font-size="10.4" text-anchor="middle" font-weight="normal" fill="#1e1e1e" stroke="#1e1e1e" stroke-width="0.25">f1</text>
<text transform="translate(58.7 1014.8) scale(0.73 1)" font-size="10.4" text-anchor="middle" font-weight="normal" fill="#1e1e1e" stroke="#1e1e1e" stroke-width="0.25">f2</text>
<text transform="translate(8.5 855.4) scale(0.73 1) rotate(-90)" font-size="10.4" text-anchor="middle" font-weight="normal" fill="#1e1e1e" stroke="#1e1e1e" stroke-width="0.25">f3</text>
<text transform="translate(123.2 719.5) scale(0.73 1)" font-size="12" text-anchor="middle" font-weight="bold" fill="#000">MOWO</text>
<path d="M41.4 924.65L42.34 926.2L43.37 927.3L42.34 928.4L41.4 929.95L40.46 928.4L39.43 927.3L40.46 926.2Z" fill="#ff0000"/>
<path d="M44.9 924.05L45.84 925.6L46.87 926.7L45.84 927.8L44.9 929.35L43.96 927.8L42.93 926.7L43.96 925.6Z" fill="#ff0000"/>
<path d="M50.5 921.95L51.44 923.5L52.47 924.6L51.44 925.7L50.5 927.25L49.56 925.7L48.53 924.6L49.56 923.5Z" fill="#ff0000"/>
<path d="M51.1 923.85L52.04 925.4L53.07 926.5L52.04 927.6L51.1 929.15L50.16 927.6L49.13 926.5L50.16 925.4Z" fill="#ff0000"/>
<path d="M50.2 910.35L51.14 911.9L52.17 913L51.14 914.1L50.2 915.65L49.26 914.1L48.23 913L49.26 911.9Z" fill="#ff0000"/>
<path d="M56.8 915.55L57.74 917.1L58.77 918.2L57.74 919.3L56.8 920.85L55.86 919.3L54.83 918.2L55.86 917.1Z" fill="#ff0000"/>
<path d="M63 912.35L63.94 913.9L64.97 915L63.94 916.1L63 917.65L62.06 916.1L61.03 915L62.06 913.9Z" fill="#ff0000"/>
<path d="M65.6 910.95L66.54 912.5L67.57 913.6L66.54 914.7L65.6 916.25L64.66 914.7L63.63 913.6L64.66 912.5Z" fill="#ff0000"/>
<path d="M68.5 917.65L69.44 919.2L70.47 920.3L69.44 921.4L68.5 922.95L67.56 921.4L66.53 920.3L67.56 919.2Z" fill="#ff0000"/>
<path d="M68.9 915.85L69.84 917.4L70.87 918.5L69.84 919.6L68.9 921.15L67.96 919.6L66.93 918.5L67.96 917.4Z" fill="#ff0000"/>
<path d="M70.6 908.85L71.54 910.4L72.57 911.5L71.54 912.6L70.6 914.15L69.66 912.6L68.63 911.5L69.66 910.4Z" fill="#ff0000"/>
<path d="M72.4 908.25L73.34 909.8L74.37 910.9L73.34 912L72.4 913.55L71.46 912L70.43 910.9L71.46 909.8Z" fill="#ff0000"/>
<path d="M73.5 910.65L74.44 912.2L75.47 913.3L74.44 914.4L73.5 915.95L72.56 914.4L71.53 913.3L72.56 912.2Z" fill="#ff0000"/>
<path d="M73 912.35L73.94 913.9L74.97 915L73.94 916.1L73 917.65L72.06 916.1L71.03 915L72.06 913.9Z" fill="#ff0000"/>
<path d="M72.4 917.05L73.34 918.6L74.37 919.7L73.34 920.8L72.4 922.35L71.46 920.8L70.43 919.7L71.46 918.6Z" fill="#ff0000"/>
<path d="M75.3 911.25L76.24 912.8L77.27 913.9L76.24 915L75.3 916.55L74.36 915L73.33 913.9L74.36 912.8Z" fill="#ff0000"/>
<path d="M78.2 911.25L79.14 912.8L80.17 913.9L79.14 915L78.2 916.55L77.26 915L76.23 913.9L77.26 912.8Z" fill="#ff0000"/>
<path d="M76.5 918.25L77.44 919.8L78.47 920.9L77.44 922L76.5 923.55L75.56 922L74.53 920.9L75.56 919.8Z" fill="#ff0000"/>
<path d="M78.2 917.65L79.14 919.2L80.17 920.3L79.14 921.4L78.2 922.95L77.26 921.4L76.23 920.3L77.26 919.2Z" fill="#ff0000"/>
<path d="M80 917.05L80.94 918.6L81.97 919.7L80.94 920.8L80 922.35L79.06 920.8L78.03 919.7L79.06 918.6Z" fill="#ff0000"/>
<path d="M81.5 918.25L82.44 919.8L83.47 920.9L82.44 922L81.5 923.55L80.56 922L79.53 920.9L80.56 919.8Z" fill="#ff0000"/>
<path d="M81.7 904.75L82.64 906.3L83.67 907.4L82.64 908.5L81.7 910.05L80.76 908.5L79.73 907.4L80.76 906.3Z" fill="#ff0000"/>
<path d="M83.5 910.65L84.44 912.2L85.47 913.3L84.44 914.4L83.5 915.95L82.56 914.4L81.53 913.3L82.56 912.2Z" fill="#ff0000"/>
<path d="M85.2 908.35L86.14 909.9L87.17 911L86.14 912.1L85.2 913.65L84.26 912.1L83.23 911L84.26 909.9Z" fill="#ff0000"/>
<path d="M88.1 906.55L89.04 908.1L90.07 909.2L89.04 910.3L88.1 911.85L87.16 910.3L86.13 909.2L87.16 908.1Z" fill="#ff0000"/>
<path d="M89 913.35L89.94 914.9L90.97 916L89.94 917.1L89 918.65L88.06 917.1L87.03 916L88.06 914.9Z" fill="#ff0000"/>
<path d="M90.8 912.35L91.74 913.9L92.77 915L91.74 916.1L90.8 917.65L89.86 916.1L88.83 915L89.86 913.9Z" fill="#ff0000"/>
<path d="M92.2 904.75L93.14 906.3L94.17 907.4L93.14 908.5L92.2 910.05L91.26 908.5L90.23 907.4L91.26 906.3Z" fill="#ff0000"/>
<path d="M92.8 911.25L93.74 912.8L94.77 913.9L93.74 915L92.8 916.55L91.86 915L90.83 913.9L91.86 912.8Z" fill="#ff0000"/>
<path d="M95.1 908.65L96.04 910.2L97.07 911.3L96.04 912.4L95.1 913.95L94.16 912.4L93.13 911.3L94.16 910.2Z" fill="#ff0000"/>
<path d="M74.7 896.25L75.64 897.8L76.67 898.9L75.64 900L74.7 901.55L73.76 900L72.73 898.9L73.76 897.8Z" fill="#ff0000"/>
<path d="M78.2 893.75L79.14 895.3L80.17 896.4L79.14 897.5L78.2 899.05L77.26 897.5L76.23 896.4L77.26 895.3Z" fill="#ff0000"/>
<path d="M80 889.95L80.94 891.5L81.97 892.6L80.94 893.7L80 895.25L79.06 893.7L78.03 892.6L79.06 891.5Z" fill="#ff0000"/>
<path d="M85.5 891.55L86.44 893.1L87.47 894.2L86.44 895.3L85.5 896.85L84.56 895.3L83.53 894.2L84.56 893.1Z" fill="#ff0000"/>
<path d="M89.9 893.75L90.84 895.3L91.87 896.4L90.84 897.5L89.9 899.05L88.96 897.5L87.93 896.4L88.96 895.3Z" fill="#ff0000"/>
<path d="M92.2 892.55L93.14 894.1L94.17 895.2L93.14 896.3L92.2 897.85L91.26 896.3L90.23 895.2L91.26 894.1Z" fill="#ff0000"/>
<path d="M94 895.45L94.94 897L95.97 898.1L94.94 899.2L94 900.75L93.06 899.2L92.03 898.1L93.06 897Z" fill="#ff0000"/>
<path d="M95.7 897.75L96.64 899.3L97.67 900.4L96.64 901.5L95.7 903.05L94.76 901.5L93.73 900.4L94.76 899.3Z" fill="#ff0000"/>
<path d="M97.5 899.55L98.44 901.1L99.47 902.2L98.44 903.3L97.5 904.85L96.56 903.3L95.53 902.2L96.56 901.1Z" fill="#ff0000"/>
<path d="M98.1 901.85L99.04 903.4L100.07 904.5L99.04 905.6L98.1 907.15L97.16 905.6L96.13 904.5L97.16 903.4Z" fill="#ff0000"/>
<path d="M99.2 903.95L100.14 905.5L101.17 906.6L100.14 907.7L99.2 909.25L98.26 907.7L97.23 906.6L98.26 905.5Z" fill="#ff0000"/>
<path d="M93.4 886.45L94.34 888L95.37 889.1L94.34 890.2L93.4 891.75L92.46 890.2L91.43 889.1L92.46 888Z" fill="#ff0000"/>
<path d="M95.7 890.45L96.64 892L97.67 893.1L96.64 894.2L95.7 895.75L94.76 894.2L93.73 893.1L94.76 892Z" fill="#ff0000"/>
<path d="M99 892.55L99.94 894.1L100.97 895.2L99.94 896.3L99 897.85L98.06 896.3L97.03 895.2L98.06 894.1Z" fill="#ff0000"/>
<path d="M102.2 894.85L103.14 896.4L104.17 897.5L103.14 898.6L102.2 900.15L101.26 898.6L100.23 897.5L101.26 896.4Z" fill="#ff0000"/>
<path d="M96.7 881.45L97.64 883L98.67 884.1L97.64 885.2L96.7 886.75L95.76 885.2L94.73 884.1L95.76 883Z" fill="#ff0000"/>
<path d="M101.6 884.35L102.54 885.9L103.57 887L102.54 888.1L101.6 889.65L100.66 888.1L99.63 887L100.66 885.9Z" fill="#ff0000"/>
<path d="M104.5 886.65L105.44 888.2L106.47 889.3L105.44 890.4L104.5 891.95L103.56 890.4L102.53 889.3L103.56 888.2Z" fill="#ff0000"/>
<path d="M106.8 886.95L107.74 888.5L108.77 889.6L107.74 890.7L106.8 892.25L105.86 890.7L104.83 889.6L105.86 888.5Z" fill="#ff0000"/>
<path d="M104.3 891.15L105.24 892.7L106.27 893.8L105.24 894.9L104.3 896.45L103.36 894.9L102.33 893.8L103.36 892.7Z" fill="#ff0000"/>
<path d="M105.1 904.75L106.04 906.3L107.07 907.4L106.04 908.5L105.1 910.05L104.16 908.5L103.13 907.4L104.16 906.3Z" fill="#ff0000"/>
<path d="M106 901.85L106.94 903.4L107.97 904.5L106.94 905.6L106 907.15L105.06 905.6L104.03 904.5L105.06 903.4Z" fill="#ff0000"/>
<path d="M103.9 879.15L104.84 880.7L105.87 881.8L104.84 882.9L103.9 884.45L102.96 882.9L101.93 881.8L102.96 880.7Z" fill="#ff0000"/>
<path d="M105.7 879.15L106.64 880.7L107.67 881.8L106.64 882.9L105.7 884.45L104.76 882.9L103.73 881.8L104.76 880.7Z" fill="#ff0000"/>
<path d="M111.4 845.45L112.34 847L113.37 848.1L112.34 849.2L111.4 850.75L110.46 849.2L109.43 848.1L110.46 847Z" fill="#ff0000"/>
<path d="M111 846.95L111.94 848.5L112.97 849.6L111.94 850.7L111 852.25L110.06 850.7L109.03 849.6L110.06 848.5Z" fill="#ff0000"/>
<path d="M110.1 848.65L111.04 850.2L112.07 851.3L111.04 852.4L110.1 853.95L109.16 852.4L108.13 851.3L109.16 850.2Z" fill="#ff0000"/>
<path d="M110.7 852.15L111.64 853.7L112.67 854.8L111.64 855.9L110.7 857.45L109.76 855.9L108.73 854.8L109.76 853.7Z" fill="#ff0000"/>
<path d="M108.8 859.15L109.74 860.7L110.77 861.8L109.74 862.9L108.8 864.45L107.86 862.9L106.83 861.8L107.86 860.7Z" fill="#ff0000"/>
<path d="M110 864.15L110.94 865.7L111.97 866.8L110.94 867.9L110 869.45L109.06 867.9L108.03 866.8L109.06 865.7Z" fill="#ff0000"/>
<path d="M107.5 865.55L108.44 867.1L109.47 868.2L108.44 869.3L107.5 870.85L106.56 869.3L105.53 868.2L106.56 867.1Z" fill="#ff0000"/>
<path d="M106 868.55L106.94 870.1L107.97 871.2L106.94 872.3L106 873.85L105.06 872.3L104.03 871.2L105.06 870.1Z" fill="#ff0000"/>
<path d="M106.6 870.85L107.54 872.4L108.57 873.5L107.54 874.6L106.6 876.15L105.66 874.6L104.63 873.5L105.66 872.4Z" fill="#ff0000"/>
<path d="M110.5 871.75L111.44 873.3L112.47 874.4L111.44 875.5L110.5 877.05L109.56 875.5L108.53 874.4L109.56 873.3Z" fill="#ff0000"/>
<path d="M106.3 873.75L107.24 875.3L108.27 876.4L107.24 877.5L106.3 879.05L105.36 877.5L104.33 876.4L105.36 875.3Z" fill="#ff0000"/>
<path d="M105.1 876.45L106.04 878L107.07 879.1L106.04 880.2L105.1 881.75L104.16 880.2L103.13 879.1L104.16 878Z" fill="#ff0000"/>
<path d="M104.3 877.55L105.24 879.1L106.27 880.2L105.24 881.3L104.3 882.85L103.36 881.3L102.33 880.2L103.36 879.1Z" fill="#ff0000"/>
<path d="M102.5 879.65L103.44 881.2L104.47 882.3L103.44 883.4L102.5 884.95L101.56 883.4L100.53 882.3L101.56 881.2Z" fill="#ff0000"/>
<path d="M105.4 879.95L106.34 881.5L107.37 882.6L106.34 883.7L105.4 885.25L104.46 883.7L103.43 882.6L104.46 881.5Z" fill="#ff0000"/>
<path d="M105.4 881.05L106.34 882.6L107.37 883.7L106.34 884.8L105.4 886.35L104.46 884.8L103.43 883.7L104.46 882.6Z" fill="#ff0000"/>
<path d="M96.7 881.05L97.64 882.6L98.67 883.7L97.64 884.8L96.7 886.35L95.76 884.8L94.73 883.7L95.76 882.6Z" fill="#ff0000"/>
<path d="M101.4 884.25L102.34 885.8L103.37 886.9L102.34 888L101.4 889.55L100.46 888L99.43 886.9L100.46 885.8Z" fill="#ff0000"/>
<path d="M93.5 885.75L94.44 887.3L95.47 888.4L94.44 889.5L93.5 891.05L92.56 889.5L91.53 888.4L92.56 887.3Z" fill="#ff0000"/>
<path d="M104.9 886.35L105.84 887.9L106.87 889L105.84 890.1L104.9 891.65L103.96 890.1L102.93 889L103.96 887.9Z" fill="#ff0000"/>
<path d="M107.2 886.65L108.14 888.2L109.17 889.3L108.14 890.4L107.2 891.95L106.26 890.4L105.23 889.3L106.26 888.2Z" fill="#ff0000"/>
<ellipse cx="135.5" cy="878" rx="3.22" ry="4.4" fill="#00f000" stroke="#111" stroke-width="0.8"/>
<ellipse cx="135.5" cy="878" rx="1.42" ry="2.2" fill="none" stroke="#031" stroke-width="0.9"/>
<rect x="237.8" y="725.5" width="67.4" height="28.6" fill="#fff" stroke="#6a6a6a" stroke-width="1.3"/>
<ellipse cx="251.5" cy="733.38" rx="3.22" ry="4.2" fill="#00f000" stroke="#000" stroke-width="0.7"/>
<path d="M251.5 744.16L252.44 745.71L253.47 746.81L252.44 747.91L251.5 749.46L250.56 747.91L249.53 746.81L250.56 745.71Z" fill="#ff0000"/>
<text transform="translate(265.2 737.38) scale(0.69 1)" font-size="10.4" text-anchor="start" font-weight="normal" fill="#1e1e1e" stroke="#1e1e1e" stroke-width="0.25">BCS</text>
<text transform="translate(265.2 750.11) scale(0.69 1)" font-size="10.4" text-anchor="start" font-weight="normal" fill="#1e1e1e" stroke="#1e1e1e" stroke-width="0.25">obtained PF</text>
<line x1="367.96" y1="921.64" x2="367.96" y2="770.74" stroke="#dcdcdc" stroke-width="0.8"/>
<line x1="466.96" y1="992.54" x2="367.96" y2="921.64" stroke="#dcdcdc" stroke-width="0.8"/>
<line x1="394.24" y1="910.58" x2="394.24" y2="759.68" stroke="#dcdcdc" stroke-width="0.8"/>
<line x1="493.24" y1="981.48" x2="394.24" y2="910.58" stroke="#dcdcdc" stroke-width="0.8"/>
<line x1="420.53" y1="899.52" x2="420.53" y2="748.62" stroke="#dcdcdc" stroke-width="0.8"/>
<line x1="519.53" y1="970.42" x2="420.53" y2="899.52" stroke="#dcdcdc" stroke-width="0.8"/>
<line x1="446.81" y1="888.46" x2="446.81" y2="737.56" stroke="#dcdcdc" stroke-width="0.8"/>
<line x1="545.81" y1="959.36" x2="446.81" y2="888.46" stroke="#dcdcdc" stroke-width="0.8"/>
<line x1="473.1" y1="877.4" x2="473.1" y2="726.5" stroke="#dcdcdc" stroke-width="0.8"/>
<line x1="572.1" y1="948.3" x2="473.1" y2="877.4" stroke="#dcdcdc" stroke-width="0.8"/>
<line x1="344.3" y1="931.6" x2="473.1" y2="877.4" stroke="#dcdcdc" stroke-width="0.8"/>
<line x1="473.1" y1="877.4" x2="572.1" y2="948.3" stroke="#dcdcdc" stroke-width="0.8"/>
<line x1="344.3" y1="881.3" x2="473.1" y2="827.1" stroke="#dcdcdc" stroke-width="0.8"/>
<line x1="473.1" y1="827.1" x2="572.1" y2="898" stroke="#dcdcdc" stroke-width="0.8"/>
<line x1="344.3" y1="831" x2="473.1" y2="776.8" stroke="#dcdcdc" stroke-width="0.8"/>
<line x1="473.1" y1="776.8" x2="572.1" y2="847.7" stroke="#dcdcdc" stroke-width="0.8"/>
<line x1="344.3" y1="780.7" x2="473.1" y2="726.5" stroke="#dcdcdc" stroke-width="0.8"/>
<line x1="473.1" y1="726.5" x2="572.1" y2="797.4" stroke="#dcdcdc" stroke-width="0.8"/>
<line x1="572.1" y1="948.3" x2="572.1" y2="797.4" stroke="#dcdcdc" stroke-width="0.8"/>
<line x1="443.3" y1="1002.5" x2="572.1" y2="948.3" stroke="#dcdcdc" stroke-width="0.8"/>
<line x1="540.92" y1="925.97" x2="540.92" y2="775.07" stroke="#dcdcdc" stroke-width="0.8"/>
<line x1="412.12" y1="980.17" x2="540.92" y2="925.97" stroke="#dcdcdc" stroke-width="0.8"/>
<line x1="509.74" y1="903.64" x2="509.74" y2="752.74" stroke="#dcdcdc" stroke-width="0.8"/>
<line x1="380.94" y1="957.84" x2="509.74" y2="903.64" stroke="#dcdcdc" stroke-width="0.8"/>
<line x1="478.56" y1="881.31" x2="478.56" y2="730.41" stroke="#dcdcdc" stroke-width="0.8"/>
<line x1="349.76" y1="935.51" x2="478.56" y2="881.31" stroke="#dcdcdc" stroke-width="0.8"/>
<line x1="344.3" y1="931.6" x2="344.3" y2="780.7" stroke="#8c8c8c" stroke-width="1.5"/>
<line x1="344.3" y1="931.6" x2="443.3" y2="1002.5" stroke="#303030" stroke-width="0.9"/>
<line x1="443.3" y1="1002.5" x2="572.1" y2="948.3" stroke="#303030" stroke-width="0.9"/>
<line x1="466.96" y1="992.54" x2="469.23" y2="994.18" stroke="#303030" stroke-width="0.8"/>
<line x1="493.24" y1="981.48" x2="495.52" y2="983.11" stroke="#303030" stroke-width="0.8"/>
<line x1="519.53" y1="970.42" x2="521.81" y2="972.05" stroke="#303030" stroke-width="0.8"/>
<line x1="545.81" y1="959.36" x2="548.09" y2="960.99" stroke="#303030" stroke-width="0.8"/>
<line x1="572.1" y1="948.3" x2="574.38" y2="949.93" stroke="#303030" stroke-width="0.8"/>
<line x1="443.3" y1="1002.5" x2="440.72" y2="1003.59" stroke="#303030" stroke-width="0.8"/>
<line x1="412.12" y1="980.17" x2="409.54" y2="981.26" stroke="#303030" stroke-width="0.8"/>
<line x1="380.94" y1="957.84" x2="378.36" y2="958.92" stroke="#303030" stroke-width="0.8"/>
<line x1="349.76" y1="935.51" x2="347.18" y2="936.59" stroke="#303030" stroke-width="0.8"/>
<line x1="344.3" y1="931.6" x2="342.02" y2="929.97" stroke="#303030" stroke-width="0.8"/>
<line x1="344.3" y1="881.3" x2="342.02" y2="879.67" stroke="#303030" stroke-width="0.8"/>
<line x1="344.3" y1="831" x2="342.02" y2="829.37" stroke="#303030" stroke-width="0.8"/>
<line x1="344.3" y1="780.7" x2="342.02" y2="779.07" stroke="#303030" stroke-width="0.8"/>
<text transform="translate(337.51 932.2) scale(0.89 1)" font-size="10.4" text-anchor="end" font-weight="normal" fill="#1e1e1e" stroke="#1e1e1e" stroke-width="0.25">0</text>
<text transform="translate(337.51 881.9) scale(0.89 1)" font-size="10.4" text-anchor="end" font-weight="normal" fill="#1e1e1e" stroke="#1e1e1e" stroke-width="0.25">0.5</text>
<text transform="translate(337.51 831.6) scale(0.89 1)" font-size="10.4" text-anchor="end" font-weight="normal" fill="#1e1e1e" stroke="#1e1e1e" stroke-width="0.25">1</text>
<text transform="translate(337.51 781.3) scale(0.89 1)" font-size="10.4" text-anchor="end" font-weight="normal" fill="#1e1e1e" stroke="#1e1e1e" stroke-width="0.25">1.5</text>
<text transform="translate(435.54 1016.9) scale(0.89 1)" font-size="10.4" text-anchor="end" font-weight="normal" fill="#1e1e1e" stroke="#1e1e1e" stroke-width="0.25">-200</text>
<text transform="translate(404.36 994.57) scale(0.89 1)" font-size="10.4" text-anchor="end" font-weight="normal" fill="#1e1e1e" stroke="#1e1e1e" stroke-width="0.25">0</text>
<text transform="translate(373.18 972.24) scale(0.89 1)" font-size="10.4" text-anchor="end" font-weight="normal" fill="#1e1e1e" stroke="#1e1e1e" stroke-width="0.25">200</text>
<text transform="translate(342 949.91) scale(0.89 1)" font-size="10.4" text-anchor="end" font-weight="normal" fill="#1e1e1e" stroke="#1e1e1e" stroke-width="0.25">400</text>
<text transform="translate(472.26 1008.04) scale(0.89 1)" font-size="10.4" text-anchor="start" font-weight="normal" fill="#1e1e1e" stroke="#1e1e1e" stroke-width="0.25">-1000</text>
<text transform="translate(498.54 996.98) scale(0.89 1)" font-size="10.4" text-anchor="start" font-weight="normal" fill="#1e1e1e" stroke="#1e1e1e" stroke-width="0.25">-500</text>
<text transform="translate(524.83 985.92) scale(0.89 1)" font-size="10.4" text-anchor="start" font-weight="normal" fill="#1e1e1e" stroke="#1e1e1e" stroke-width="0.25">0</text>
<text transform="translate(551.11 974.86) scale(0.89 1)" font-size="10.4" text-anchor="start" font-weight="normal" fill="#1e1e1e" stroke="#1e1e1e" stroke-width="0.25">500</text>
<text transform="translate(577.4 963.8) scale(0.89 1)" font-size="10.4" text-anchor="start" font-weight="normal" fill="#1e1e1e" stroke="#1e1e1e" stroke-width="0.25">1000</text>
<text transform="translate(519.8 1018.1) scale(0.89 1)" font-size="10.4" text-anchor="middle" font-weight="normal" fill="#1e1e1e" stroke="#1e1e1e" stroke-width="0.25">f1</text>
<text transform="translate(379.1 1014.6) scale(0.89 1)" font-size="10.4" text-anchor="middle" font-weight="normal" fill="#1e1e1e" stroke="#1e1e1e" stroke-width="0.25">f2</text>
<text transform="translate(320.3 855.8) scale(0.89 1) rotate(-90)" font-size="10.4" text-anchor="middle" font-weight="normal" fill="#1e1e1e" stroke="#1e1e1e" stroke-width="0.25">f3</text>
<text transform="translate(458.7 722.1) scale(0.87 1)" font-size="12" text-anchor="middle" font-weight="bold" fill="#000">MSSA</text>
<path d="M344.8 800.95L345.95 802.5L347.22 803.6L345.95 804.7L344.8 806.25L343.65 804.7L342.38 803.6L343.65 802.5Z" fill="#ff0000"/>
<path d="M367.3 843.25L368.45 844.8L369.72 845.9L368.45 847L367.3 848.55L366.15 847L364.88 845.9L366.15 844.8Z" fill="#ff0000"/>
<path d="M371.5 840.55L372.65 842.1L373.92 843.2L372.65 844.3L371.5 845.85L370.35 844.3L369.08 843.2L370.35 842.1Z" fill="#ff0000"/>
<path d="M376.6 841.05L377.75 842.6L379.02 843.7L377.75 844.8L376.6 846.35L375.45 844.8L374.18 843.7L375.45 842.6Z" fill="#ff0000"/>
<path d="M380.3 845.45L381.45 847L382.72 848.1L381.45 849.2L380.3 850.75L379.15 849.2L377.88 848.1L379.15 847Z" fill="#ff0000"/>
<path d="M398.2 848.35L399.35 849.9L400.62 851L399.35 852.1L398.2 853.65L397.05 852.1L395.78 851L397.05 849.9Z" fill="#ff0000"/>
<path d="M431.9 947.95L433.05 949.5L434.32 950.6L433.05 951.7L431.9 953.25L430.75 951.7L429.48 950.6L430.75 949.5Z" fill="#ff0000"/>
<path d="M433.6 949.65L434.75 951.2L436.02 952.3L434.75 953.4L433.6 954.95L432.45 953.4L431.18 952.3L432.45 951.2Z" fill="#ff0000"/>
<path d="M436 948.85L437.15 950.4L438.42 951.5L437.15 952.6L436 954.15L434.85 952.6L433.58 951.5L434.85 950.4Z" fill="#ff0000"/>
<path d="M438.1 946.55L439.25 948.1L440.52 949.2L439.25 950.3L438.1 951.85L436.95 950.3L435.68 949.2L436.95 948.1Z" fill="#ff0000"/>
<path d="M440.3 944.75L441.45 946.3L442.72 947.4L441.45 948.5L440.3 950.05L439.15 948.5L437.88 947.4L439.15 946.3Z" fill="#ff0000"/>
<path d="M442.2 944.15L443.35 945.7L444.62 946.8L443.35 947.9L442.2 949.45L441.05 947.9L439.78 946.8L441.05 945.7Z" fill="#ff0000"/>
<path d="M444 945.55L445.15 947.1L446.42 948.2L445.15 949.3L444 950.85L442.85 949.3L441.58 948.2L442.85 947.1Z" fill="#ff0000"/>
<path d="M445.6 947.65L446.75 949.2L448.02 950.3L446.75 951.4L445.6 952.95L444.45 951.4L443.18 950.3L444.45 949.2Z" fill="#ff0000"/>
<path d="M447 949.55L448.15 951.1L449.42 952.2L448.15 953.3L447 954.85L445.85 953.3L444.58 952.2L445.85 951.1Z" fill="#ff0000"/>
<path d="M448.5 951.35L449.65 952.9L450.92 954L449.65 955.1L448.5 956.65L447.35 955.1L446.08 954L447.35 952.9Z" fill="#ff0000"/>
<path d="M450 952.55L451.15 954.1L452.42 955.2L451.15 956.3L450 957.85L448.85 956.3L447.58 955.2L448.85 954.1Z" fill="#ff0000"/>
<path d="M451.5 953.35L452.65 954.9L453.92 956L452.65 957.1L451.5 958.65L450.35 957.1L449.08 956L450.35 954.9Z" fill="#ff0000"/>
<path d="M453 952.65L454.15 954.2L455.42 955.3L454.15 956.4L453 957.95L451.85 956.4L450.58 955.3L451.85 954.2Z" fill="#ff0000"/>
<path d="M454.8 951.65L455.95 953.2L457.22 954.3L455.95 955.4L454.8 956.95L453.65 955.4L452.38 954.3L453.65 953.2Z" fill="#ff0000"/>
<path d="M456.5 951.45L457.65 953L458.92 954.1L457.65 955.2L456.5 956.75L455.35 955.2L454.08 954.1L455.35 953Z" fill="#ff0000"/>
<path d="M446 951.35L447.15 952.9L448.42 954L447.15 955.1L446 956.65L444.85 955.1L443.58 954L444.85 952.9Z" fill="#ff0000"/>
<path d="M449 953.85L450.15 955.4L451.42 956.5L450.15 957.6L449 959.15L447.85 957.6L446.58 956.5L447.85 955.4Z" fill="#ff0000"/>
<path d="M443.5 947.35L444.65 948.9L445.92 950L444.65 951.1L443.5 952.65L442.35 951.1L441.08 950L442.35 948.9Z" fill="#ff0000"/>
<path d="M441 946.85L442.15 948.4L443.42 949.5L442.15 950.6L441 952.15L439.85 950.6L438.58 949.5L439.85 948.4Z" fill="#ff0000"/>
<path d="M441 945.85L442.15 947.4L443.42 948.5L442.15 949.6L441 951.15L439.85 949.6L438.58 948.5L439.85 947.4Z" fill="#ff0000"/>
<path d="M443 948.35L444.15 949.9L445.42 951L444.15 952.1L443 953.65L441.85 952.1L440.58 951L441.85 949.9Z" fill="#ff0000"/>
<path d="M446.5 948.85L447.65 950.4L448.92 951.5L447.65 952.6L446.5 954.15L445.35 952.6L444.08 951.5L445.35 950.4Z" fill="#ff0000"/>
<path d="M448 952.85L449.15 954.4L450.42 955.5L449.15 956.6L448 958.15L446.85 956.6L445.58 955.5L446.85 954.4Z" fill="#ff0000"/>
<path d="M451 951.35L452.15 952.9L453.42 954L452.15 955.1L451 956.65L449.85 955.1L448.58 954L449.85 952.9Z" fill="#ff0000"/>
<path d="M453.5 954.35L454.65 955.9L455.92 957L454.65 958.1L453.5 959.65L452.35 958.1L451.08 957L452.35 955.9Z" fill="#ff0000"/>
<path d="M455.5 952.85L456.65 954.4L457.92 955.5L456.65 956.6L455.5 958.15L454.35 956.6L453.08 955.5L454.35 954.4Z" fill="#ff0000"/>
<path d="M436.5 950.35L437.65 951.9L438.92 953L437.65 954.1L436.5 955.65L435.35 954.1L434.08 953L435.35 951.9Z" fill="#ff0000"/>
<path d="M434.5 947.35L435.65 948.9L436.92 950L435.65 951.1L434.5 952.65L433.35 951.1L432.08 950L433.35 948.9Z" fill="#ff0000"/>
<path d="M439.5 948.35L440.65 949.9L441.92 951L440.65 952.1L439.5 953.65L438.35 952.1L437.08 951L438.35 949.9Z" fill="#ff0000"/>
<path d="M444.5 950.85L445.65 952.4L446.92 953.5L445.65 954.6L444.5 956.15L443.35 954.6L442.08 953.5L443.35 952.4Z" fill="#ff0000"/>
<path d="M447.5 950.85L448.65 952.4L449.92 953.5L448.65 954.6L447.5 956.15L446.35 954.6L445.08 953.5L446.35 952.4Z" fill="#ff0000"/>
<path d="M450 954.35L451.15 955.9L452.42 957L451.15 958.1L450 959.65L448.85 958.1L447.58 957L448.85 955.9Z" fill="#ff0000"/>
<path d="M452 954.85L453.15 956.4L454.42 957.5L453.15 958.6L452 960.15L450.85 958.6L449.58 957.5L450.85 956.4Z" fill="#ff0000"/>
<path d="M516.4 907.65L517.55 909.2L518.82 910.3L517.55 911.4L516.4 912.95L515.25 911.4L513.98 910.3L515.25 909.2Z" fill="#ff0000"/>
<ellipse cx="488.3" cy="948.8" rx="3.96" ry="4.4" fill="#00f000" stroke="#111" stroke-width="0.8"/>
<ellipse cx="488.3" cy="948.8" rx="1.75" ry="2.2" fill="none" stroke="#031" stroke-width="0.9"/>
<rect x="600.4" y="727.9" width="82.9" height="28.6" fill="#fff" stroke="#6a6a6a" stroke-width="1.3"/>
<ellipse cx="617.3" cy="735.78" rx="3.96" ry="4.2" fill="#00f000" stroke="#000" stroke-width="0.7"/>
<path d="M617.3 746.56L618.45 748.11L619.72 749.21L618.45 750.31L617.3 751.86L616.15 750.31L614.88 749.21L616.15 748.11Z" fill="#ff0000"/>
<text transform="translate(634.1 739.78) scale(0.85 1)" font-size="10.4" text-anchor="start" font-weight="normal" fill="#1e1e1e" stroke="#1e1e1e" stroke-width="0.25">BCS</text>
<text transform="translate(634.1 752.51) scale(0.85 1)" font-size="10.4" text-anchor="start" font-weight="normal" fill="#1e1e1e" stroke="#1e1e1e" stroke-width="0.25">obtained PF</text>
<line x1="49.7" y1="1249.83" x2="49.7" y2="1096.53" stroke="#dcdcdc" stroke-width="0.8"/>
<line x1="127.4" y1="1321.63" x2="49.7" y2="1249.83" stroke="#dcdcdc" stroke-width="0.8"/>
<line x1="90.78" y1="1227.79" x2="90.78" y2="1074.49" stroke="#dcdcdc" stroke-width="0.8"/>
<line x1="168.48" y1="1299.59" x2="90.78" y2="1227.79" stroke="#dcdcdc" stroke-width="0.8"/>
<line x1="131.87" y1="1205.75" x2="131.87" y2="1052.45" stroke="#dcdcdc" stroke-width="0.8"/>
<line x1="209.57" y1="1277.55" x2="131.87" y2="1205.75" stroke="#dcdcdc" stroke-width="0.8"/>
<line x1="35.4" y1="1257.5" x2="136.8" y2="1203.1" stroke="#dcdcdc" stroke-width="0.8"/>
<line x1="136.8" y1="1203.1" x2="214.5" y2="1274.9" stroke="#dcdcdc" stroke-width="0.8"/>
<line x1="35.4" y1="1226.84" x2="136.8" y2="1172.44" stroke="#dcdcdc" stroke-width="0.8"/>
<line x1="136.8" y1="1172.44" x2="214.5" y2="1244.24" stroke="#dcdcdc" stroke-width="0.8"/>
<line x1="35.4" y1="1196.18" x2="136.8" y2="1141.78" stroke="#dcdcdc" stroke-width="0.8"/>
<line x1="136.8" y1="1141.78" x2="214.5" y2="1213.58" stroke="#dcdcdc" stroke-width="0.8"/>
<line x1="35.4" y1="1165.52" x2="136.8" y2="1111.12" stroke="#dcdcdc" stroke-width="0.8"/>
<line x1="136.8" y1="1111.12" x2="214.5" y2="1182.92" stroke="#dcdcdc" stroke-width="0.8"/>
<line x1="35.4" y1="1134.86" x2="136.8" y2="1080.46" stroke="#dcdcdc" stroke-width="0.8"/>
<line x1="136.8" y1="1080.46" x2="214.5" y2="1152.26" stroke="#dcdcdc" stroke-width="0.8"/>
<line x1="35.4" y1="1104.2" x2="136.8" y2="1049.8" stroke="#dcdcdc" stroke-width="0.8"/>
<line x1="136.8" y1="1049.8" x2="214.5" y2="1121.6" stroke="#dcdcdc" stroke-width="0.8"/>
<line x1="214.5" y1="1274.9" x2="214.5" y2="1121.6" stroke="#dcdcdc" stroke-width="0.8"/>
<line x1="113.1" y1="1329.3" x2="214.5" y2="1274.9" stroke="#dcdcdc" stroke-width="0.8"/>
<line x1="196.76" y1="1258.51" x2="196.76" y2="1105.21" stroke="#dcdcdc" stroke-width="0.8"/>
<line x1="95.36" y1="1312.91" x2="196.76" y2="1258.51" stroke="#dcdcdc" stroke-width="0.8"/>
<line x1="179.02" y1="1242.11" x2="179.02" y2="1088.81" stroke="#dcdcdc" stroke-width="0.8"/>
<line x1="77.62" y1="1296.51" x2="179.02" y2="1242.11" stroke="#dcdcdc" stroke-width="0.8"/>
<line x1="161.28" y1="1225.72" x2="161.28" y2="1072.42" stroke="#dcdcdc" stroke-width="0.8"/>
<line x1="59.88" y1="1280.12" x2="161.28" y2="1225.72" stroke="#dcdcdc" stroke-width="0.8"/>
<line x1="143.54" y1="1209.33" x2="143.54" y2="1056.03" stroke="#dcdcdc" stroke-width="0.8"/>
<line x1="42.14" y1="1263.73" x2="143.54" y2="1209.33" stroke="#dcdcdc" stroke-width="0.8"/>
<line x1="35.4" y1="1257.5" x2="35.4" y2="1104.2" stroke="#303030" stroke-width="0.9"/>
<line x1="35.4" y1="1257.5" x2="113.1" y2="1329.3" stroke="#303030" stroke-width="0.9"/>
<line x1="113.1" y1="1329.3" x2="214.5" y2="1274.9" stroke="#303030" stroke-width="0.9"/>
<line x1="127.4" y1="1321.63" x2="129.45" y2="1323.53" stroke="#303030" stroke-width="0.8"/>
<line x1="168.48" y1="1299.59" x2="170.54" y2="1301.49" stroke="#303030" stroke-width="0.8"/>
<line x1="209.57" y1="1277.55" x2="211.63" y2="1279.45" stroke="#303030" stroke-width="0.8"/>
<line x1="113.1" y1="1329.3" x2="110.63" y2="1330.62" stroke="#303030" stroke-width="0.8"/>
<line x1="95.36" y1="1312.91" x2="92.89" y2="1314.23" stroke="#303030" stroke-width="0.8"/>
<line x1="77.62" y1="1296.51" x2="75.15" y2="1297.84" stroke="#303030" stroke-width="0.8"/>
<line x1="59.88" y1="1280.12" x2="57.41" y2="1281.45" stroke="#303030" stroke-width="0.8"/>
<line x1="42.14" y1="1263.73" x2="39.67" y2="1265.05" stroke="#303030" stroke-width="0.8"/>
<line x1="35.4" y1="1257.5" x2="33.34" y2="1255.6" stroke="#303030" stroke-width="0.8"/>
<line x1="35.4" y1="1226.84" x2="33.34" y2="1224.94" stroke="#303030" stroke-width="0.8"/>
<line x1="35.4" y1="1196.18" x2="33.34" y2="1194.28" stroke="#303030" stroke-width="0.8"/>
<line x1="35.4" y1="1165.52" x2="33.34" y2="1163.62" stroke="#303030" stroke-width="0.8"/>
<line x1="35.4" y1="1134.86" x2="33.34" y2="1132.96" stroke="#303030" stroke-width="0.8"/>
<line x1="35.4" y1="1104.2" x2="33.34" y2="1102.3" stroke="#303030" stroke-width="0.8"/>
<text transform="translate(29.88 1258.1) scale(0.72 1)" font-size="10.4" text-anchor="end" font-weight="normal" fill="#1e1e1e" stroke="#1e1e1e" stroke-width="0.25">0</text>
<text transform="translate(29.88 1227.44) scale(0.72 1)" font-size="10.4" text-anchor="end" font-weight="normal" fill="#1e1e1e" stroke="#1e1e1e" stroke-width="0.25">0.05</text>
<text transform="translate(29.88 1196.78) scale(0.72 1)" font-size="10.4" text-anchor="end" font-weight="normal" fill="#1e1e1e" stroke="#1e1e1e" stroke-width="0.25">0.1</text>
<text transform="translate(29.88 1166.12) scale(0.72 1)" font-size="10.4" text-anchor="end" font-weight="normal" fill="#1e1e1e" stroke="#1e1e1e" stroke-width="0.25">0.15</text>
<text transform="translate(29.88 1135.46) scale(0.72 1)" font-size="10.4" text-anchor="end" font-weight="normal" fill="#1e1e1e" stroke="#1e1e1e" stroke-width="0.25">0.2</text>
<text transform="translate(29.88 1104.8) scale(0.72 1)" font-size="10.4" text-anchor="end" font-weight="normal" fill="#1e1e1e" stroke="#1e1e1e" stroke-width="0.25">0.25</text>
<text transform="translate(106.79 1343.7) scale(0.72 1)" font-size="10.4" text-anchor="end" font-weight="normal" fill="#1e1e1e" stroke="#1e1e1e" stroke-width="0.25">-200</text>
<text transform="translate(89.05 1327.31) scale(0.72 1)" font-size="10.4" text-anchor="end" font-weight="normal" fill="#1e1e1e" stroke="#1e1e1e" stroke-width="0.25">-150</text>
<text transform="translate(71.31 1310.91) scale(0.72 1)" font-size="10.4" text-anchor="end" font-weight="normal" fill="#1e1e1e" stroke="#1e1e1e" stroke-width="0.25">-100</text>
<text transform="translate(53.57 1294.52) scale(0.72 1)" font-size="10.4" text-anchor="end" font-weight="normal" fill="#1e1e1e" stroke="#1e1e1e" stroke-width="0.25">-50</text>
<text transform="translate(35.83 1278.13) scale(0.72 1)" font-size="10.4" text-anchor="end" font-weight="normal" fill="#1e1e1e" stroke="#1e1e1e" stroke-width="0.25">0</text>
<text transform="translate(131.6 1337.03) scale(0.72 1)" font-size="10.4" text-anchor="start" font-weight="normal" fill="#1e1e1e" stroke="#1e1e1e" stroke-width="0.25">-1000</text>
<text transform="translate(172.68 1314.99) scale(0.72 1)" font-size="10.4" text-anchor="start" font-weight="normal" fill="#1e1e1e" stroke="#1e1e1e" stroke-width="0.25">-500</text>
<text transform="translate(213.77 1292.95) scale(0.72 1)" font-size="10.4" text-anchor="start" font-weight="normal" fill="#1e1e1e" stroke="#1e1e1e" stroke-width="0.25">0</text>
<text transform="translate(174.3 1345.2) scale(0.72 1)" font-size="10.4" text-anchor="middle" font-weight="normal" fill="#1e1e1e" stroke="#1e1e1e" stroke-width="0.25">f1</text>
<text transform="translate(61.2 1341.6) scale(0.72 1)" font-size="10.4" text-anchor="middle" font-weight="normal" fill="#1e1e1e" stroke="#1e1e1e" stroke-width="0.25">f2</text>
<text transform="translate(8.5 1181.6) scale(0.72 1) rotate(-90)" font-size="10.4" text-anchor="middle" font-weight="normal" fill="#1e1e1e" stroke="#1e1e1e" stroke-width="0.25">f3</text>
<text transform="translate(125.5 1044.5) scale(0.72 1)" font-size="12" text-anchor="middle" font-weight="bold" fill="#000">MALO</text>
<path d="M35.4 1109.85L36.33 1111.4L37.36 1112.5L36.33 1113.6L35.4 1115.15L34.47 1113.6L33.44 1112.5L34.47 1111.4Z" fill="#ff0000"/>
<path d="M45.5 1180.95L46.43 1182.5L47.46 1183.6L46.43 1184.7L45.5 1186.25L44.57 1184.7L43.54 1183.6L44.57 1182.5Z" fill="#ff0000"/>
<path d="M35.4 1197.55L36.33 1199.1L37.36 1200.2L36.33 1201.3L35.4 1202.85L34.47 1201.3L33.44 1200.2L34.47 1199.1Z" fill="#ff0000"/>
<path d="M73 1249.55L73.93 1251.1L74.96 1252.2L73.93 1253.3L73 1254.85L72.07 1253.3L71.04 1252.2L72.07 1251.1Z" fill="#ff0000"/>
<path d="M204.4 1132.45L205.33 1134L206.36 1135.1L205.33 1136.2L204.4 1137.75L203.47 1136.2L202.44 1135.1L203.47 1134Z" fill="#ff0000"/>
<path d="M189 1147.55L189.93 1149.1L190.96 1150.2L189.93 1151.3L189 1152.85L188.07 1151.3L187.04 1150.2L188.07 1149.1Z" fill="#ff0000"/>
<path d="M152 1168.55L152.93 1170.1L153.96 1171.2L152.93 1172.3L152 1173.85L151.07 1172.3L150.04 1171.2L151.07 1170.1Z" fill="#ff0000"/>
<path d="M120.1 1179.75L121.03 1181.3L122.06 1182.4L121.03 1183.5L120.1 1185.05L119.17 1183.5L118.14 1182.4L119.17 1181.3Z" fill="#ff0000"/>
<path d="M111.8 1223.95L112.73 1225.5L113.76 1226.6L112.73 1227.7L111.8 1229.25L110.87 1227.7L109.84 1226.6L110.87 1225.5Z" fill="#ff0000"/>
<path d="M118.8 1227.85L119.73 1229.4L120.76 1230.5L119.73 1231.6L118.8 1233.15L117.87 1231.6L116.84 1230.5L117.87 1229.4Z" fill="#ff0000"/>
<ellipse cx="136.6" cy="1212.4" rx="3.2" ry="4.4" fill="#00f000" stroke="#111" stroke-width="0.8"/>
<ellipse cx="136.6" cy="1212.4" rx="1.42" ry="2.2" fill="none" stroke="#031" stroke-width="0.9"/>
<rect x="237.3" y="1050.3" width="67" height="28.8" fill="#fff" stroke="#6a6a6a" stroke-width="1.3"/>
<ellipse cx="250.7" cy="1058.23" rx="3.2" ry="4.2" fill="#00f000" stroke="#000" stroke-width="0.7"/>
<path d="M250.7 1069.11L251.63 1070.66L252.66 1071.76L251.63 1072.86L250.7 1074.41L249.77 1072.86L248.74 1071.76L249.77 1070.66Z" fill="#ff0000"/>
<text transform="translate(264.3 1062.23) scale(0.69 1)" font-size="10.4" text-anchor="start" font-weight="normal" fill="#1e1e1e" stroke="#1e1e1e" stroke-width="0.25">BCS</text>
<text transform="translate(264.3 1075.06) scale(0.69 1)" font-size="10.4" text-anchor="start" font-weight="normal" fill="#1e1e1e" stroke="#1e1e1e" stroke-width="0.25">obtained PF</text>
<line x1="334.8" y1="1260" x2="334.8" y2="1109.2" stroke="#dcdcdc" stroke-width="0.8"/>
<line x1="416.99" y1="1327.55" x2="334.8" y2="1260" stroke="#dcdcdc" stroke-width="0.8"/>
<line x1="362.28" y1="1246.9" x2="362.28" y2="1096.1" stroke="#dcdcdc" stroke-width="0.8"/>
<line x1="444.47" y1="1314.45" x2="362.28" y2="1246.9" stroke="#dcdcdc" stroke-width="0.8"/>
<line x1="389.75" y1="1233.8" x2="389.75" y2="1083" stroke="#dcdcdc" stroke-width="0.8"/>
<line x1="471.94" y1="1301.35" x2="389.75" y2="1233.8" stroke="#dcdcdc" stroke-width="0.8"/>
<line x1="417.23" y1="1220.7" x2="417.23" y2="1069.9" stroke="#dcdcdc" stroke-width="0.8"/>
<line x1="499.42" y1="1288.25" x2="417.23" y2="1220.7" stroke="#dcdcdc" stroke-width="0.8"/>
<line x1="444.7" y1="1207.6" x2="444.7" y2="1056.8" stroke="#dcdcdc" stroke-width="0.8"/>
<line x1="526.89" y1="1275.15" x2="444.7" y2="1207.6" stroke="#dcdcdc" stroke-width="0.8"/>
<line x1="334.8" y1="1260" x2="444.7" y2="1207.6" stroke="#dcdcdc" stroke-width="0.8"/>
<line x1="444.7" y1="1207.6" x2="526.89" y2="1275.15" stroke="#dcdcdc" stroke-width="0.8"/>
<line x1="334.8" y1="1209.73" x2="444.7" y2="1157.33" stroke="#dcdcdc" stroke-width="0.8"/>
<line x1="444.7" y1="1157.33" x2="526.89" y2="1224.88" stroke="#dcdcdc" stroke-width="0.8"/>
<line x1="334.8" y1="1159.47" x2="444.7" y2="1107.07" stroke="#dcdcdc" stroke-width="0.8"/>
<line x1="444.7" y1="1107.07" x2="526.89" y2="1174.62" stroke="#dcdcdc" stroke-width="0.8"/>
<line x1="334.8" y1="1109.2" x2="444.7" y2="1056.8" stroke="#dcdcdc" stroke-width="0.8"/>
<line x1="444.7" y1="1056.8" x2="526.89" y2="1124.35" stroke="#dcdcdc" stroke-width="0.8"/>
<line x1="526.89" y1="1275.15" x2="526.89" y2="1124.35" stroke="#dcdcdc" stroke-width="0.8"/>
<line x1="416.99" y1="1327.55" x2="526.89" y2="1275.15" stroke="#dcdcdc" stroke-width="0.8"/>
<line x1="499.49" y1="1252.63" x2="499.49" y2="1101.83" stroke="#dcdcdc" stroke-width="0.8"/>
<line x1="389.59" y1="1305.03" x2="499.49" y2="1252.63" stroke="#dcdcdc" stroke-width="0.8"/>
<line x1="472.1" y1="1230.12" x2="472.1" y2="1079.32" stroke="#dcdcdc" stroke-width="0.8"/>
<line x1="362.2" y1="1282.52" x2="472.1" y2="1230.12" stroke="#dcdcdc" stroke-width="0.8"/>
<line x1="444.7" y1="1207.6" x2="444.7" y2="1056.8" stroke="#dcdcdc" stroke-width="0.8"/>
<line x1="334.8" y1="1260" x2="444.7" y2="1207.6" stroke="#dcdcdc" stroke-width="0.8"/>
<line x1="334.8" y1="1260" x2="334.8" y2="1109.2" stroke="#303030" stroke-width="0.9"/>
<line x1="334.8" y1="1260" x2="419" y2="1329.2" stroke="#303030" stroke-width="0.9"/>
<line x1="419" y1="1329.2" x2="528.9" y2="1276.8" stroke="#303030" stroke-width="0.9"/>
<line x1="419" y1="1329.2" x2="421.16" y2="1330.98" stroke="#303030" stroke-width="0.8"/>
<line x1="446.48" y1="1316.1" x2="448.64" y2="1317.88" stroke="#303030" stroke-width="0.8"/>
<line x1="473.95" y1="1303" x2="476.11" y2="1304.78" stroke="#303030" stroke-width="0.8"/>
<line x1="501.43" y1="1289.9" x2="503.59" y2="1291.68" stroke="#303030" stroke-width="0.8"/>
<line x1="528.9" y1="1276.8" x2="531.06" y2="1278.58" stroke="#303030" stroke-width="0.8"/>
<line x1="416.99" y1="1327.55" x2="414.46" y2="1328.75" stroke="#303030" stroke-width="0.8"/>
<line x1="389.59" y1="1305.03" x2="387.07" y2="1306.24" stroke="#303030" stroke-width="0.8"/>
<line x1="362.2" y1="1282.52" x2="359.67" y2="1283.72" stroke="#303030" stroke-width="0.8"/>
<line x1="334.8" y1="1260" x2="332.27" y2="1261.21" stroke="#303030" stroke-width="0.8"/>
<line x1="334.8" y1="1260" x2="332.64" y2="1258.22" stroke="#303030" stroke-width="0.8"/>
<line x1="334.8" y1="1209.73" x2="332.64" y2="1207.96" stroke="#303030" stroke-width="0.8"/>
<line x1="334.8" y1="1159.47" x2="332.64" y2="1157.69" stroke="#303030" stroke-width="0.8"/>
<line x1="334.8" y1="1109.2" x2="332.64" y2="1107.42" stroke="#303030" stroke-width="0.8"/>
<text transform="translate(328.59 1260.6) scale(0.81 1)" font-size="10.4" text-anchor="end" font-weight="normal" fill="#1e1e1e" stroke="#1e1e1e" stroke-width="0.25">0</text>
<text transform="translate(328.59 1210.33) scale(0.81 1)" font-size="10.4" text-anchor="end" font-weight="normal" fill="#1e1e1e" stroke="#1e1e1e" stroke-width="0.25">0.5</text>
<text transform="translate(328.59 1160.07) scale(0.81 1)" font-size="10.4" text-anchor="end" font-weight="normal" fill="#1e1e1e" stroke="#1e1e1e" stroke-width="0.25">1</text>
<text transform="translate(328.59 1109.8) scale(0.81 1)" font-size="10.4" text-anchor="end" font-weight="normal" fill="#1e1e1e" stroke="#1e1e1e" stroke-width="0.25">1.5</text>
<text transform="translate(409.89 1341.95) scale(0.81 1)" font-size="10.4" text-anchor="end" font-weight="normal" fill="#1e1e1e" stroke="#1e1e1e" stroke-width="0.25">-600</text>
<text transform="translate(382.49 1319.43) scale(0.81 1)" font-size="10.4" text-anchor="end" font-weight="normal" fill="#1e1e1e" stroke="#1e1e1e" stroke-width="0.25">-400</text>
<text transform="translate(355.1 1296.92) scale(0.81 1)" font-size="10.4" text-anchor="end" font-weight="normal" fill="#1e1e1e" stroke="#1e1e1e" stroke-width="0.25">-200</text>
<text transform="translate(327.7 1274.4) scale(0.81 1)" font-size="10.4" text-anchor="end" font-weight="normal" fill="#1e1e1e" stroke="#1e1e1e" stroke-width="0.25">0</text>
<text transform="translate(424 1345.5) scale(0.81 1)" font-size="10.4" text-anchor="start" font-weight="normal" fill="#1e1e1e" stroke="#1e1e1e" stroke-width="0.25">-2000</text>
<text transform="translate(451.48 1332.4) scale(0.81 1)" font-size="10.4" text-anchor="start" font-weight="normal" fill="#1e1e1e" stroke="#1e1e1e" stroke-width="0.25">-1000</text>
<text transform="translate(478.95 1319.3) scale(0.81 1)" font-size="10.4" text-anchor="start" font-weight="normal" fill="#1e1e1e" stroke="#1e1e1e" stroke-width="0.25">0</text>
<text transform="translate(506.43 1306.2) scale(0.81 1)" font-size="10.4" text-anchor="start" font-weight="normal" fill="#1e1e1e" stroke="#1e1e1e" stroke-width="0.25">1000</text>
<text transform="translate(533.9 1293.1) scale(0.81 1)" font-size="10.4" text-anchor="start" font-weight="normal" fill="#1e1e1e" stroke="#1e1e1e" stroke-width="0.25">2000</text>
<text transform="translate(484.7 1346.1) scale(0.81 1)" font-size="10.4" text-anchor="middle" font-weight="normal" fill="#1e1e1e" stroke="#1e1e1e" stroke-width="0.25">f1</text>
<text transform="translate(363.3 1343.3) scale(0.81 1)" font-size="10.4" text-anchor="middle" font-weight="normal" fill="#1e1e1e" stroke="#1e1e1e" stroke-width="0.25">f2</text>
<text transform="translate(431.7 1049.9) scale(0.79 1)" font-size="12" text-anchor="middle" font-weight="bold" fill="#000">NSGAII</text>
<ellipse cx="438.4" cy="1168.5" rx="1.4" ry="1.6" fill="#d80000" stroke="#000" stroke-width="0.55"/>
<ellipse cx="357.3" cy="1235.5" rx="1.4" ry="1.6" fill="#d80000" stroke="#000" stroke-width="0.55"/>
<ellipse cx="386.5" cy="1237.7" rx="1.4" ry="1.6" fill="#d80000" stroke="#000" stroke-width="0.55"/>
<ellipse cx="394.6" cy="1236.5" rx="1.4" ry="1.6" fill="#d80000" stroke="#000" stroke-width="0.55"/>
<ellipse cx="402" cy="1240.5" rx="1.4" ry="1.6" fill="#d80000" stroke="#000" stroke-width="0.55"/>
<ellipse cx="405.4" cy="1238.4" rx="1.4" ry="1.6" fill="#d80000" stroke="#000" stroke-width="0.55"/>
<ellipse cx="399.5" cy="1243.4" rx="1.4" ry="1.6" fill="#d80000" stroke="#000" stroke-width="0.55"/>
<ellipse cx="416.5" cy="1245.7" rx="1.4" ry="1.6" fill="#d80000" stroke="#000" stroke-width="0.55"/>
<ellipse cx="405.1" cy="1251.7" rx="1.4" ry="1.6" fill="#d80000" stroke="#000" stroke-width="0.55"/>
<ellipse cx="373.2" cy="1251.1" rx="1.4" ry="1.6" fill="#d80000" stroke="#000" stroke-width="0.55"/>
<ellipse cx="379.4" cy="1253.9" rx="1.4" ry="1.6" fill="#d80000" stroke="#000" stroke-width="0.55"/>
<ellipse cx="352" cy="1255.2" rx="1.4" ry="1.6" fill="#d80000" stroke="#000" stroke-width="0.55"/>
<ellipse cx="359.4" cy="1254.4" rx="1.4" ry="1.6" fill="#d80000" stroke="#000" stroke-width="0.55"/>
<ellipse cx="360.2" cy="1256.4" rx="1.4" ry="1.6" fill="#d80000" stroke="#000" stroke-width="0.55"/>
<ellipse cx="365.4" cy="1255.8" rx="1.4" ry="1.6" fill="#d80000" stroke="#000" stroke-width="0.55"/>
<ellipse cx="364.8" cy="1258.8" rx="1.4" ry="1.6" fill="#d80000" stroke="#000" stroke-width="0.55"/>
<ellipse cx="368.3" cy="1261.4" rx="1.4" ry="1.6" fill="#d80000" stroke="#000" stroke-width="0.55"/>
<ellipse cx="380.9" cy="1257.5" rx="1.4" ry="1.6" fill="#d80000" stroke="#000" stroke-width="0.55"/>
<ellipse cx="382.8" cy="1260.6" rx="1.4" ry="1.6" fill="#d80000" stroke="#000" stroke-width="0.55"/>
<ellipse cx="390.2" cy="1257.9" rx="1.4" ry="1.6" fill="#d80000" stroke="#000" stroke-width="0.55"/>
<ellipse cx="394.3" cy="1259.1" rx="1.4" ry="1.6" fill="#d80000" stroke="#000" stroke-width="0.55"/>
<ellipse cx="379.4" cy="1262.5" rx="1.4" ry="1.6" fill="#d80000" stroke="#000" stroke-width="0.55"/>
<ellipse cx="375.9" cy="1264.7" rx="1.4" ry="1.6" fill="#d80000" stroke="#000" stroke-width="0.55"/>
<ellipse cx="383.6" cy="1263.1" rx="1.4" ry="1.6" fill="#d80000" stroke="#000" stroke-width="0.55"/>
<ellipse cx="385.3" cy="1263.1" rx="1.4" ry="1.6" fill="#d80000" stroke="#000" stroke-width="0.55"/>
<ellipse cx="389.2" cy="1263.2" rx="1.4" ry="1.6" fill="#d80000" stroke="#000" stroke-width="0.55"/>
<ellipse cx="391.5" cy="1266" rx="1.4" ry="1.6" fill="#d80000" stroke="#000" stroke-width="0.55"/>
<ellipse cx="395.6" cy="1265" rx="1.4" ry="1.6" fill="#d80000" stroke="#000" stroke-width="0.55"/>
<ellipse cx="396.8" cy="1262" rx="1.4" ry="1.6" fill="#d80000" stroke="#000" stroke-width="0.55"/>
<ellipse cx="398.9" cy="1262.2" rx="1.4" ry="1.6" fill="#d80000" stroke="#000" stroke-width="0.55"/>
<ellipse cx="400.5" cy="1265" rx="1.4" ry="1.6" fill="#d80000" stroke="#000" stroke-width="0.55"/>
<ellipse cx="401.8" cy="1261.4" rx="1.4" ry="1.6" fill="#d80000" stroke="#000" stroke-width="0.55"/>
<ellipse cx="402.3" cy="1265" rx="1.4" ry="1.6" fill="#d80000" stroke="#000" stroke-width="0.55"/>
<ellipse cx="406.3" cy="1262.6" rx="1.4" ry="1.6" fill="#d80000" stroke="#000" stroke-width="0.55"/>
<ellipse cx="404.1" cy="1268.4" rx="1.4" ry="1.6" fill="#d80000" stroke="#000" stroke-width="0.55"/>
<ellipse cx="406" cy="1267.8" rx="1.4" ry="1.6" fill="#d80000" stroke="#000" stroke-width="0.55"/>
<ellipse cx="410.1" cy="1260.7" rx="1.4" ry="1.6" fill="#d80000" stroke="#000" stroke-width="0.55"/>
<ellipse cx="410.9" cy="1262.2" rx="1.4" ry="1.6" fill="#d80000" stroke="#000" stroke-width="0.55"/>
<ellipse cx="410.4" cy="1269" rx="1.4" ry="1.6" fill="#d80000" stroke="#000" stroke-width="0.55"/>
<ellipse cx="412.6" cy="1268.4" rx="1.4" ry="1.6" fill="#d80000" stroke="#000" stroke-width="0.55"/>
<ellipse cx="414.4" cy="1259.5" rx="1.4" ry="1.6" fill="#d80000" stroke="#000" stroke-width="0.55"/>
<ellipse cx="415.7" cy="1254.8" rx="1.4" ry="1.6" fill="#d80000" stroke="#000" stroke-width="0.55"/>
<ellipse cx="417.5" cy="1259.7" rx="1.4" ry="1.6" fill="#d80000" stroke="#000" stroke-width="0.55"/>
<ellipse cx="418.1" cy="1263.7" rx="1.4" ry="1.6" fill="#d80000" stroke="#000" stroke-width="0.55"/>
<ellipse cx="415.7" cy="1271.5" rx="1.4" ry="1.6" fill="#d80000" stroke="#000" stroke-width="0.55"/>
<ellipse cx="417.5" cy="1269.7" rx="1.4" ry="1.6" fill="#d80000" stroke="#000" stroke-width="0.55"/>
<ellipse cx="434.5" cy="1228.3" rx="1.4" ry="1.6" fill="#d80000" stroke="#000" stroke-width="0.55"/>
<ellipse cx="442.5" cy="1229.5" rx="1.4" ry="1.6" fill="#d80000" stroke="#000" stroke-width="0.55"/>
<ellipse cx="451.9" cy="1225.2" rx="1.4" ry="1.6" fill="#d80000" stroke="#000" stroke-width="0.55"/>
<ellipse cx="450.4" cy="1234.8" rx="1.4" ry="1.6" fill="#d80000" stroke="#000" stroke-width="0.55"/>
<ellipse cx="451.9" cy="1236.6" rx="1.4" ry="1.6" fill="#d80000" stroke="#000" stroke-width="0.55"/>
<ellipse cx="466.5" cy="1231.4" rx="1.4" ry="1.6" fill="#d80000" stroke="#000" stroke-width="0.55"/>
<ellipse cx="476.4" cy="1232.6" rx="1.4" ry="1.6" fill="#d80000" stroke="#000" stroke-width="0.55"/>
<ellipse cx="461.2" cy="1237.9" rx="1.4" ry="1.6" fill="#d80000" stroke="#000" stroke-width="0.55"/>
<ellipse cx="461.8" cy="1241" rx="1.4" ry="1.6" fill="#d80000" stroke="#000" stroke-width="0.55"/>
<ellipse cx="468.6" cy="1237" rx="1.4" ry="1.6" fill="#d80000" stroke="#000" stroke-width="0.55"/>
<ellipse cx="468.1" cy="1238.8" rx="1.4" ry="1.6" fill="#d80000" stroke="#000" stroke-width="0.55"/>
<ellipse cx="469.8" cy="1241.8" rx="1.4" ry="1.6" fill="#d80000" stroke="#000" stroke-width="0.55"/>
<ellipse cx="442.1" cy="1241.2" rx="1.4" ry="1.6" fill="#d80000" stroke="#000" stroke-width="0.55"/>
<ellipse cx="416.9" cy="1245.5" rx="1.4" ry="1.6" fill="#d80000" stroke="#000" stroke-width="0.55"/>
<ellipse cx="431.4" cy="1247.4" rx="1.4" ry="1.6" fill="#d80000" stroke="#000" stroke-width="0.55"/>
<ellipse cx="435.2" cy="1247.4" rx="1.4" ry="1.6" fill="#d80000" stroke="#000" stroke-width="0.55"/>
<ellipse cx="439.6" cy="1247.8" rx="1.4" ry="1.6" fill="#d80000" stroke="#000" stroke-width="0.55"/>
<ellipse cx="443.3" cy="1247.5" rx="1.4" ry="1.6" fill="#d80000" stroke="#000" stroke-width="0.55"/>
<ellipse cx="447.6" cy="1246.2" rx="1.4" ry="1.6" fill="#d80000" stroke="#000" stroke-width="0.55"/>
<ellipse cx="433.4" cy="1251.8" rx="1.4" ry="1.6" fill="#d80000" stroke="#000" stroke-width="0.55"/>
<ellipse cx="442.9" cy="1250.9" rx="1.4" ry="1.6" fill="#d80000" stroke="#000" stroke-width="0.55"/>
<ellipse cx="454.7" cy="1250.3" rx="1.4" ry="1.6" fill="#d80000" stroke="#000" stroke-width="0.55"/>
<ellipse cx="458.8" cy="1249.3" rx="1.4" ry="1.6" fill="#d80000" stroke="#000" stroke-width="0.55"/>
<ellipse cx="460.9" cy="1251.8" rx="1.4" ry="1.6" fill="#d80000" stroke="#000" stroke-width="0.55"/>
<ellipse cx="461.2" cy="1253" rx="1.4" ry="1.6" fill="#d80000" stroke="#000" stroke-width="0.55"/>
<ellipse cx="447" cy="1253.1" rx="1.4" ry="1.6" fill="#d80000" stroke="#000" stroke-width="0.55"/>
<ellipse cx="449.5" cy="1254.6" rx="1.4" ry="1.6" fill="#d80000" stroke="#000" stroke-width="0.55"/>
<ellipse cx="444.2" cy="1255.2" rx="1.4" ry="1.6" fill="#d80000" stroke="#000" stroke-width="0.55"/>
<ellipse cx="445.4" cy="1257.5" rx="1.4" ry="1.6" fill="#d80000" stroke="#000" stroke-width="0.55"/>
<ellipse cx="451.6" cy="1258.6" rx="1.4" ry="1.6" fill="#d80000" stroke="#000" stroke-width="0.55"/>
<ellipse cx="440.2" cy="1256.7" rx="1.4" ry="1.6" fill="#d80000" stroke="#000" stroke-width="0.55"/>
<ellipse cx="440.4" cy="1259.8" rx="1.4" ry="1.6" fill="#d80000" stroke="#000" stroke-width="0.55"/>
<ellipse cx="427.4" cy="1255.8" rx="1.4" ry="1.6" fill="#d80000" stroke="#000" stroke-width="0.55"/>
<ellipse cx="415.6" cy="1255" rx="1.4" ry="1.6" fill="#d80000" stroke="#000" stroke-width="0.55"/>
<ellipse cx="417.7" cy="1259.3" rx="1.4" ry="1.6" fill="#d80000" stroke="#000" stroke-width="0.55"/>
<ellipse cx="437.3" cy="1260.8" rx="1.4" ry="1.6" fill="#d80000" stroke="#000" stroke-width="0.55"/>
<ellipse cx="428" cy="1261.4" rx="1.4" ry="1.6" fill="#d80000" stroke="#000" stroke-width="0.55"/>
<ellipse cx="428.9" cy="1262.9" rx="1.4" ry="1.6" fill="#d80000" stroke="#000" stroke-width="0.55"/>
<ellipse cx="431.1" cy="1263.5" rx="1.4" ry="1.6" fill="#d80000" stroke="#000" stroke-width="0.55"/>
<ellipse cx="447.3" cy="1260.8" rx="1.4" ry="1.6" fill="#d80000" stroke="#000" stroke-width="0.55"/>
<ellipse cx="448.5" cy="1264.2" rx="1.4" ry="1.6" fill="#d80000" stroke="#000" stroke-width="0.55"/>
<ellipse cx="437" cy="1264.5" rx="1.4" ry="1.6" fill="#d80000" stroke="#000" stroke-width="0.55"/>
<ellipse cx="437.3" cy="1268" rx="1.4" ry="1.6" fill="#d80000" stroke="#000" stroke-width="0.55"/>
<ellipse cx="418.5" cy="1263.7" rx="1.4" ry="1.6" fill="#d80000" stroke="#000" stroke-width="0.55"/>
<ellipse cx="423.4" cy="1267.9" rx="1.4" ry="1.6" fill="#d80000" stroke="#000" stroke-width="0.55"/>
<ellipse cx="417.5" cy="1269.1" rx="1.4" ry="1.6" fill="#d80000" stroke="#000" stroke-width="0.55"/>
<ellipse cx="501.1" cy="1235" rx="1.4" ry="1.6" fill="#d80000" stroke="#000" stroke-width="0.55"/>
<ellipse cx="389.9" cy="1233.9" rx="3.44" ry="4.4" fill="#00f000" stroke="#111" stroke-width="0.8"/>
<rect x="555.7" y="1055.7" width="72.4" height="28.1" fill="#fff" stroke="#6a6a6a" stroke-width="1.3"/>
<ellipse cx="570.3" cy="1063.44" rx="3.44" ry="4.2" fill="#00f000" stroke="#000" stroke-width="0.7"/>
<ellipse cx="570.3" cy="1076.64" rx="1.52" ry="1.75" fill="#d80000" stroke="#000" stroke-width="0.55"/>
<text transform="translate(585.2 1067.44) scale(0.74 1)" font-size="10.4" text-anchor="start" font-weight="normal" fill="#1e1e1e" stroke="#1e1e1e" stroke-width="0.25">BCS</text>
<text transform="translate(585.2 1079.94) scale(0.74 1)" font-size="10.4" text-anchor="start" font-weight="normal" fill="#1e1e1e" stroke="#1e1e1e" stroke-width="0.25">obtained PF</text>
</svg>
</body></html>
